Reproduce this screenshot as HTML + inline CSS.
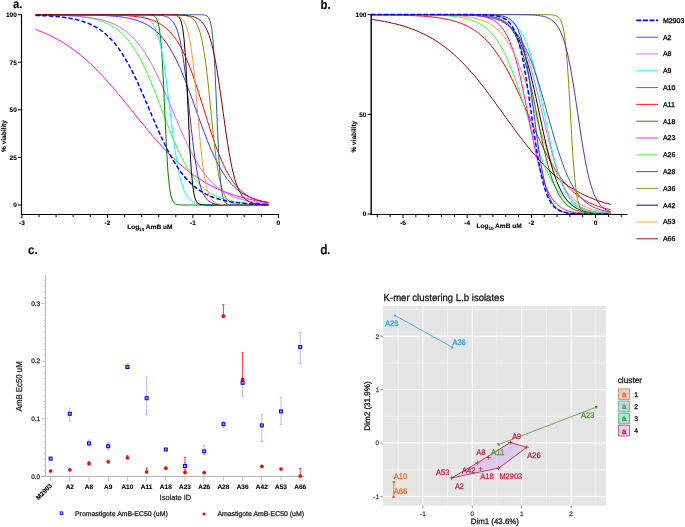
<!DOCTYPE html>
<html><head><meta charset="utf-8"><style>
html,body{margin:0;padding:0;background:#fff;}
svg{display:block;will-change:transform;}
text{font-family:"Liberation Sans",sans-serif;text-rendering:geometricPrecision;}
</style></head><body>
<svg width="685" height="527" viewBox="0 0 685 527" font-family="Liberation Sans, sans-serif">
<rect width="685" height="527" fill="#fff"/>
<path d="M35.7,29.6 L37.1,30.1 L38.6,30.7 L40.0,31.2 L41.5,31.8 L42.9,32.4 L44.4,33.0 L45.8,33.6 L47.3,34.3 L48.8,34.9 L50.2,35.6 L51.7,36.3 L53.1,37.0 L54.6,37.8 L56.0,38.6 L57.5,39.4 L58.9,40.2 L60.4,41.0 L61.8,41.9 L63.3,42.7 L64.8,43.7 L66.2,44.6 L67.7,45.5 L69.1,46.5 L70.6,47.5 L72.0,48.6 L73.5,49.6 L74.9,50.7 L76.4,51.8 L77.8,52.9 L79.3,54.1 L80.8,55.3 L82.2,56.5 L83.7,57.7 L85.1,59.0 L86.6,60.3 L88.0,61.6 L89.5,62.9 L90.9,64.3 L92.4,65.7 L93.8,67.1 L95.3,68.5 L96.8,70.0 L98.2,71.5 L99.7,73.0 L101.1,74.5 L102.6,76.0 L104.0,77.6 L105.5,79.2 L106.9,80.8 L108.4,82.5 L109.8,84.1 L111.3,85.8 L112.8,87.5 L114.2,89.2 L115.7,90.9 L117.1,92.6 L118.6,94.4 L120.0,96.1 L121.5,97.9 L122.9,99.7 L124.4,101.4 L125.8,103.2 L127.3,105.0 L128.8,106.8 L130.2,108.6 L131.7,110.4 L133.1,112.2 L134.6,114.1 L136.0,115.9 L137.5,117.7 L138.9,119.5 L140.4,121.3 L141.8,123.0 L143.3,124.8 L144.8,126.6 L146.2,128.3 L147.7,130.1 L149.1,131.8 L150.6,133.5 L152.0,135.3 L153.5,136.9 L154.9,138.6 L156.4,140.3 L157.8,141.9 L159.3,143.5 L160.8,145.1 L162.2,146.7 L163.7,148.3 L165.1,149.8 L166.6,151.3 L168.0,152.8 L169.5,154.3 L170.9,155.7 L172.4,157.1 L173.8,158.5 L175.3,159.9 L176.8,161.3 L178.2,162.6 L179.7,163.9 L181.1,165.1 L182.6,166.4 L184.0,167.6 L185.5,168.8 L186.9,170.0 L188.4,171.1 L189.8,172.2 L191.3,173.3 L192.8,174.4 L194.2,175.4 L195.7,176.4 L197.1,177.4 L198.6,178.4 L200.0,179.3 L201.5,180.2 L202.9,181.1 L204.4,182.0 L205.9,182.8 L207.3,183.6 L208.8,184.4 L210.2,185.2 L211.7,185.9 L213.1,186.7 L214.6,187.4 L216.0,188.1 L217.5,188.8 L218.9,189.4 L220.4,190.0 L221.9,190.7 L223.3,191.2 L224.8,191.8 L226.2,192.4 L227.7,192.9 L229.1,193.5 L230.6,194.0 L232.0,194.5 L233.5,194.9 L234.9,195.4 L236.4,195.8 L237.9,196.3 L239.3,196.7 L240.8,197.1 L242.2,197.5 L243.7,197.9 L245.1,198.2 L246.6,198.6 L248.0,198.9 L249.5,199.3 L250.9,199.6 L252.4,199.9 L253.9,200.2 L255.3,200.5 L256.8,200.8 L258.2,201.1 L259.7,201.3 L261.1,201.6 L262.6,201.8 L264.0,202.1 L265.5,202.3 L266.9,202.5 L268.4,202.7" fill="none" stroke="#ff00ff" stroke-width="1"/>
<path d="M35.7,14.9 L37.1,14.9 L38.6,14.9 L40.0,14.9 L41.5,14.9 L42.9,15.0 L44.4,15.0 L45.8,15.0 L47.3,15.0 L48.8,15.1 L50.2,15.1 L51.7,15.1 L53.1,15.2 L54.6,15.2 L56.0,15.2 L57.5,15.3 L58.9,15.3 L60.4,15.4 L61.8,15.4 L63.3,15.5 L64.8,15.6 L66.2,15.6 L67.7,15.7 L69.1,15.8 L70.6,15.9 L72.0,16.0 L73.5,16.1 L74.9,16.2 L76.4,16.4 L77.8,16.5 L79.3,16.6 L80.8,16.8 L82.2,17.0 L83.7,17.2 L85.1,17.4 L86.6,17.6 L88.0,17.8 L89.5,18.1 L90.9,18.4 L92.4,18.7 L93.8,19.0 L95.3,19.3 L96.8,19.7 L98.2,20.1 L99.7,20.6 L101.1,21.0 L102.6,21.6 L104.0,22.1 L105.5,22.7 L106.9,23.4 L108.4,24.1 L109.8,24.8 L111.3,25.6 L112.8,26.5 L114.2,27.4 L115.7,28.4 L117.1,29.4 L118.6,30.6 L120.0,31.8 L121.5,33.1 L122.9,34.4 L124.4,35.9 L125.8,37.5 L127.3,39.2 L128.8,40.9 L130.2,42.8 L131.7,44.8 L133.1,46.9 L134.6,49.1 L136.0,51.5 L137.5,53.9 L138.9,56.5 L140.4,59.2 L141.8,62.0 L143.3,64.9 L144.8,67.9 L146.2,71.1 L147.7,74.3 L149.1,77.7 L150.6,81.1 L152.0,84.7 L153.5,88.3 L154.9,92.0 L156.4,95.7 L157.8,99.5 L159.3,103.3 L160.8,107.1 L162.2,110.9 L163.7,114.8 L165.1,118.6 L166.6,122.4 L168.0,126.1 L169.5,129.8 L170.9,133.5 L172.4,137.0 L173.8,140.5 L175.3,143.9 L176.8,147.2 L178.2,150.4 L179.7,153.5 L181.1,156.5 L182.6,159.3 L184.0,162.1 L185.5,164.7 L186.9,167.2 L188.4,169.6 L189.8,171.8 L191.3,174.0 L192.8,176.0 L194.2,178.0 L195.7,179.8 L197.1,181.5 L198.6,183.1 L200.0,184.6 L201.5,186.0 L202.9,187.4 L204.4,188.6 L205.9,189.8 L207.3,190.9 L208.8,191.9 L210.2,192.9 L211.7,193.7 L213.1,194.6 L214.6,195.3 L216.0,196.0 L217.5,196.7 L218.9,197.3 L220.4,197.9 L221.9,198.4 L223.3,198.9 L224.8,199.4 L226.2,199.8 L227.7,200.2 L229.1,200.6 L230.6,200.9 L232.0,201.2 L233.5,201.5 L234.9,201.8 L236.4,202.0 L237.9,202.2 L239.3,202.5 L240.8,202.6 L242.2,202.8 L243.7,203.0 L245.1,203.1 L246.6,203.3 L248.0,203.4 L249.5,203.5 L250.9,203.7 L252.4,203.8 L253.9,203.9 L255.3,203.9 L256.8,204.0 L258.2,204.1 L259.7,204.2 L261.1,204.2 L262.6,204.3 L264.0,204.3 L265.5,204.4 L266.9,204.4 L268.4,204.5" fill="none" stroke="#33ff33" stroke-width="1"/>
<path d="M35.7,14.9 L37.1,14.9 L38.6,14.9 L40.0,14.9 L41.5,15.0 L42.9,15.0 L44.4,15.0 L45.8,15.0 L47.3,15.0 L48.8,15.1 L50.2,15.1 L51.7,15.1 L53.1,15.2 L54.6,15.2 L56.0,15.2 L57.5,15.3 L58.9,15.3 L60.4,15.4 L61.8,15.4 L63.3,15.5 L64.8,15.5 L66.2,15.6 L67.7,15.6 L69.1,15.7 L70.6,15.8 L72.0,15.9 L73.5,16.0 L74.9,16.1 L76.4,16.2 L77.8,16.3 L79.3,16.4 L80.8,16.5 L82.2,16.7 L83.7,16.8 L85.1,17.0 L86.6,17.1 L88.0,17.3 L89.5,17.5 L90.9,17.7 L92.4,18.0 L93.8,18.2 L95.3,18.5 L96.8,18.8 L98.2,19.1 L99.7,19.4 L101.1,19.7 L102.6,20.1 L104.0,20.5 L105.5,20.9 L106.9,21.4 L108.4,21.9 L109.8,22.4 L111.3,23.0 L112.8,23.6 L114.2,24.2 L115.7,24.9 L117.1,25.7 L118.6,26.5 L120.0,27.3 L121.5,28.2 L122.9,29.1 L124.4,30.2 L125.8,31.2 L127.3,32.4 L128.8,33.6 L130.2,34.9 L131.7,36.3 L133.1,37.7 L134.6,39.2 L136.0,40.9 L137.5,42.6 L138.9,44.4 L140.4,46.3 L141.8,48.2 L143.3,50.3 L144.8,52.5 L146.2,54.8 L147.7,57.2 L149.1,59.7 L150.6,62.2 L152.0,64.9 L153.5,67.7 L154.9,70.5 L156.4,73.5 L157.8,76.5 L159.3,79.6 L160.8,82.8 L162.2,86.1 L163.7,89.4 L165.1,92.7 L166.6,96.2 L168.0,99.6 L169.5,103.1 L170.9,106.6 L172.4,110.1 L173.8,113.6 L175.3,117.1 L176.8,120.5 L178.2,124.0 L179.7,127.4 L181.1,130.8 L182.6,134.1 L184.0,137.3 L185.5,140.5 L186.9,143.6 L188.4,146.6 L189.8,149.5 L191.3,152.4 L192.8,155.2 L194.2,157.8 L195.7,160.4 L197.1,162.8 L198.6,165.2 L200.0,167.5 L201.5,169.6 L202.9,171.7 L204.4,173.7 L205.9,175.6 L207.3,177.4 L208.8,179.1 L210.2,180.7 L211.7,182.2 L213.1,183.6 L214.6,185.0 L216.0,186.3 L217.5,187.5 L218.9,188.6 L220.4,189.7 L221.9,190.7 L223.3,191.6 L224.8,192.5 L226.2,193.3 L227.7,194.1 L229.1,194.9 L230.6,195.5 L232.0,196.2 L233.5,196.8 L234.9,197.3 L236.4,197.9 L237.9,198.4 L239.3,198.8 L240.8,199.2 L242.2,199.6 L243.7,200.0 L245.1,200.4 L246.6,200.7 L248.0,201.0 L249.5,201.3 L250.9,201.5 L252.4,201.8 L253.9,202.0 L255.3,202.2 L256.8,202.4 L258.2,202.6 L259.7,202.7 L261.1,202.9 L262.6,203.1 L264.0,203.2 L265.5,203.3 L266.9,203.4 L268.4,203.5" fill="none" stroke="#cc66ff" stroke-width="1"/>
<path d="M35.7,14.7 L37.1,14.7 L38.6,14.7 L40.0,14.7 L41.5,14.7 L42.9,14.7 L44.4,14.7 L45.8,14.7 L47.3,14.7 L48.8,14.7 L50.2,14.7 L51.7,14.7 L53.1,14.7 L54.6,14.7 L56.0,14.7 L57.5,14.7 L58.9,14.7 L60.4,14.7 L61.8,14.7 L63.3,14.7 L64.8,14.7 L66.2,14.7 L67.7,14.7 L69.1,14.7 L70.6,14.7 L72.0,14.7 L73.5,14.7 L74.9,14.7 L76.4,14.7 L77.8,14.7 L79.3,14.7 L80.8,14.7 L82.2,14.7 L83.7,14.7 L85.1,14.7 L86.6,14.7 L88.0,14.7 L89.5,14.7 L90.9,14.7 L92.4,14.7 L93.8,14.7 L95.3,14.7 L96.8,14.7 L98.2,14.7 L99.7,14.7 L101.1,14.7 L102.6,14.7 L104.0,14.7 L105.5,14.7 L106.9,14.7 L108.4,14.7 L109.8,14.7 L111.3,14.7 L112.8,14.7 L114.2,14.7 L115.7,14.7 L117.1,14.7 L118.6,14.7 L120.0,14.7 L121.5,14.7 L122.9,14.7 L124.4,14.7 L125.8,14.7 L127.3,14.7 L128.8,14.7 L130.2,14.7 L131.7,14.7 L133.1,14.7 L134.6,14.7 L136.0,14.7 L137.5,14.7 L138.9,14.7 L140.4,14.7 L141.8,14.7 L143.3,14.7 L144.8,14.7 L146.2,14.7 L147.7,14.8 L149.1,14.8 L150.6,14.9 L152.0,15.2 L153.5,15.6 L154.9,16.5 L156.4,18.3 L157.8,21.7 L159.3,28.2 L160.8,39.9 L162.2,59.2 L163.7,86.9 L165.1,119.4 L166.6,149.8 L168.0,172.7 L169.5,187.4 L170.9,195.8 L172.4,200.3 L173.8,202.6 L175.3,203.8 L176.8,204.4 L178.2,204.7 L179.7,204.8 L181.1,204.9 L182.6,205.0 L184.0,205.0 L185.5,205.0 L186.9,205.0 L188.4,205.0 L189.8,205.0 L191.3,205.0 L192.8,205.0 L194.2,205.0 L195.7,205.0 L197.1,205.0 L198.6,205.0 L200.0,205.0 L201.5,205.0 L202.9,205.0 L204.4,205.0 L205.9,205.0 L207.3,205.0 L208.8,205.0 L210.2,205.0 L211.7,205.0 L213.1,205.0 L214.6,205.0 L216.0,205.0 L217.5,205.0 L218.9,205.0 L220.4,205.0 L221.9,205.0 L223.3,205.0 L224.8,205.0 L226.2,205.0 L227.7,205.0 L229.1,205.0 L230.6,205.0 L232.0,205.0 L233.5,205.0 L234.9,205.0 L236.4,205.0 L237.9,205.0 L239.3,205.0 L240.8,205.0 L242.2,205.0 L243.7,205.0 L245.1,205.0 L246.6,205.0 L248.0,205.0 L249.5,205.0 L250.9,205.0 L252.4,205.0 L253.9,205.0 L255.3,205.0 L256.8,205.0 L258.2,205.0 L259.7,205.0 L261.1,205.0 L262.6,205.0 L264.0,205.0 L265.5,205.0 L266.9,205.0 L268.4,205.0" fill="none" stroke="#008000" stroke-width="1"/>
<path d="M35.7,14.7 L37.1,14.7 L38.6,14.7 L40.0,14.7 L41.5,14.7 L42.9,14.7 L44.4,14.7 L45.8,14.7 L47.3,14.7 L48.8,14.7 L50.2,14.7 L51.7,14.7 L53.1,14.7 L54.6,14.7 L56.0,14.7 L57.5,14.7 L58.9,14.7 L60.4,14.7 L61.8,14.7 L63.3,14.7 L64.8,14.7 L66.2,14.7 L67.7,14.7 L69.1,14.7 L70.6,14.7 L72.0,14.7 L73.5,14.7 L74.9,14.7 L76.4,14.7 L77.8,14.7 L79.3,14.7 L80.8,14.7 L82.2,14.7 L83.7,14.7 L85.1,14.7 L86.6,14.7 L88.0,14.7 L89.5,14.7 L90.9,14.7 L92.4,14.7 L93.8,14.7 L95.3,14.7 L96.8,14.7 L98.2,14.7 L99.7,14.7 L101.1,14.7 L102.6,14.7 L104.0,14.7 L105.5,14.7 L106.9,14.7 L108.4,14.7 L109.8,14.7 L111.3,14.7 L112.8,14.7 L114.2,14.7 L115.7,14.7 L117.1,14.7 L118.6,14.7 L120.0,14.7 L121.5,14.7 L122.9,14.8 L124.4,14.8 L125.8,14.8 L127.3,14.8 L128.8,14.8 L130.2,14.9 L131.7,14.9 L133.1,15.0 L134.6,15.1 L136.0,15.2 L137.5,15.4 L138.9,15.5 L140.4,15.8 L141.8,16.1 L143.3,16.5 L144.8,17.0 L146.2,17.7 L147.7,18.5 L149.1,19.6 L150.6,21.0 L152.0,22.7 L153.5,24.9 L154.9,27.6 L156.4,31.1 L157.8,35.3 L159.3,40.4 L160.8,46.7 L162.2,54.0 L163.7,62.5 L165.1,72.2 L166.6,82.9 L168.0,94.4 L169.5,106.4 L170.9,118.5 L172.4,130.3 L173.8,141.5 L175.3,151.8 L176.8,161.0 L178.2,169.0 L179.7,175.8 L181.1,181.6 L182.6,186.3 L184.0,190.2 L185.5,193.3 L186.9,195.8 L188.4,197.8 L189.8,199.4 L191.3,200.6 L192.8,201.6 L194.2,202.3 L195.7,202.9 L197.1,203.4 L198.6,203.8 L200.0,204.0 L201.5,204.2 L202.9,204.4 L204.4,204.5 L205.9,204.6 L207.3,204.7 L208.8,204.8 L210.2,204.8 L211.7,204.9 L213.1,204.9 L214.6,204.9 L216.0,204.9 L217.5,205.0 L218.9,205.0 L220.4,205.0 L221.9,205.0 L223.3,205.0 L224.8,205.0 L226.2,205.0 L227.7,205.0 L229.1,205.0 L230.6,205.0 L232.0,205.0 L233.5,205.0 L234.9,205.0 L236.4,205.0 L237.9,205.0 L239.3,205.0 L240.8,205.0 L242.2,205.0 L243.7,205.0 L245.1,205.0 L246.6,205.0 L248.0,205.0 L249.5,205.0 L250.9,205.0 L252.4,205.0 L253.9,205.0 L255.3,205.0 L256.8,205.0 L258.2,205.0 L259.7,205.0 L261.1,205.0 L262.6,205.0 L264.0,205.0 L265.5,205.0 L266.9,205.0 L268.4,205.0" fill="none" stroke="#00ffff" stroke-width="1"/>
<path d="M35.7,14.7 L37.1,14.7 L38.6,14.7 L40.0,14.7 L41.5,14.7 L42.9,14.7 L44.4,14.7 L45.8,14.7 L47.3,14.7 L48.8,14.7 L50.2,14.7 L51.7,14.7 L53.1,14.7 L54.6,14.7 L56.0,14.7 L57.5,14.8 L58.9,14.8 L60.4,14.8 L61.8,14.8 L63.3,14.8 L64.8,14.8 L66.2,14.8 L67.7,14.8 L69.1,14.8 L70.6,14.8 L72.0,14.8 L73.5,14.8 L74.9,14.9 L76.4,14.9 L77.8,14.9 L79.3,14.9 L80.8,14.9 L82.2,14.9 L83.7,15.0 L85.1,15.0 L86.6,15.0 L88.0,15.0 L89.5,15.1 L90.9,15.1 L92.4,15.1 L93.8,15.2 L95.3,15.2 L96.8,15.2 L98.2,15.3 L99.7,15.3 L101.1,15.4 L102.6,15.5 L104.0,15.5 L105.5,15.6 L106.9,15.7 L108.4,15.8 L109.8,15.9 L111.3,16.0 L112.8,16.1 L114.2,16.2 L115.7,16.4 L117.1,16.5 L118.6,16.7 L120.0,16.8 L121.5,17.0 L122.9,17.2 L124.4,17.4 L125.8,17.7 L127.3,18.0 L128.8,18.2 L130.2,18.6 L131.7,18.9 L133.1,19.3 L134.6,19.7 L136.0,20.1 L137.5,20.5 L138.9,21.1 L140.4,21.6 L141.8,22.2 L143.3,22.8 L144.8,23.5 L146.2,24.3 L147.7,25.1 L149.1,26.0 L150.6,26.9 L152.0,27.9 L153.5,29.0 L154.9,30.2 L156.4,31.5 L157.8,32.8 L159.3,34.3 L160.8,35.9 L162.2,37.5 L163.7,39.3 L165.1,41.2 L166.6,43.2 L168.0,45.4 L169.5,47.6 L170.9,50.0 L172.4,52.6 L173.8,55.3 L175.3,58.1 L176.8,61.0 L178.2,64.1 L179.7,67.3 L181.1,70.6 L182.6,74.0 L184.0,77.6 L185.5,81.3 L186.9,85.0 L188.4,88.9 L189.8,92.8 L191.3,96.8 L192.8,100.8 L194.2,104.8 L195.7,108.9 L197.1,113.0 L198.6,117.1 L200.0,121.1 L201.5,125.1 L202.9,129.1 L204.4,132.9 L205.9,136.7 L207.3,140.4 L208.8,144.1 L210.2,147.5 L211.7,150.9 L213.1,154.2 L214.6,157.3 L216.0,160.3 L217.5,163.2 L218.9,165.9 L220.4,168.5 L221.9,171.0 L223.3,173.3 L224.8,175.5 L226.2,177.6 L227.7,179.5 L229.1,181.4 L230.6,183.1 L232.0,184.7 L233.5,186.2 L234.9,187.6 L236.4,188.9 L237.9,190.1 L239.3,191.3 L240.8,192.3 L242.2,193.3 L243.7,194.2 L245.1,195.0 L246.6,195.8 L248.0,196.5 L249.5,197.2 L250.9,197.8 L252.4,198.4 L253.9,198.9 L255.3,199.4 L256.8,199.9 L258.2,200.3 L259.7,200.6 L261.1,201.0 L262.6,201.3 L264.0,201.6 L265.5,201.9 L266.9,202.1 L268.4,202.4" fill="none" stroke="#3333ff" stroke-width="1"/>
<path d="M35.7,14.7 L37.1,14.7 L38.6,14.7 L40.0,14.7 L41.5,14.7 L42.9,14.7 L44.4,14.7 L45.8,14.7 L47.3,14.7 L48.8,14.7 L50.2,14.7 L51.7,14.7 L53.1,14.7 L54.6,14.7 L56.0,14.7 L57.5,14.7 L58.9,14.7 L60.4,14.7 L61.8,14.7 L63.3,14.7 L64.8,14.7 L66.2,14.7 L67.7,14.7 L69.1,14.7 L70.6,14.7 L72.0,14.7 L73.5,14.7 L74.9,14.7 L76.4,14.7 L77.8,14.7 L79.3,14.7 L80.8,14.7 L82.2,14.7 L83.7,14.7 L85.1,14.7 L86.6,14.7 L88.0,14.7 L89.5,14.7 L90.9,14.7 L92.4,14.7 L93.8,14.7 L95.3,14.7 L96.8,14.7 L98.2,14.7 L99.7,14.7 L101.1,14.7 L102.6,14.7 L104.0,14.7 L105.5,14.7 L106.9,14.7 L108.4,14.7 L109.8,14.7 L111.3,14.7 L112.8,14.7 L114.2,14.7 L115.7,14.7 L117.1,14.7 L118.6,14.7 L120.0,14.7 L121.5,14.7 L122.9,14.7 L124.4,14.7 L125.8,14.7 L127.3,14.7 L128.8,14.7 L130.2,14.7 L131.7,14.7 L133.1,14.7 L134.6,14.7 L136.0,14.7 L137.5,14.7 L138.9,14.7 L140.4,14.7 L141.8,14.7 L143.3,14.7 L144.8,14.7 L146.2,14.7 L147.7,14.7 L149.1,14.8 L150.6,14.8 L152.0,14.8 L153.5,14.9 L154.9,14.9 L156.4,15.0 L157.8,15.1 L159.3,15.2 L160.8,15.3 L162.2,15.6 L163.7,15.8 L165.1,16.2 L166.6,16.7 L168.0,17.4 L169.5,18.3 L170.9,19.5 L172.4,21.0 L173.8,23.1 L175.3,25.7 L176.8,29.1 L178.2,33.5 L179.7,39.0 L181.1,45.9 L182.6,54.2 L184.0,64.0 L185.5,75.3 L186.9,87.9 L188.4,101.3 L189.8,115.1 L191.3,128.6 L192.8,141.4 L194.2,153.0 L195.7,163.2 L197.1,171.9 L198.6,179.1 L200.0,184.9 L201.5,189.6 L202.9,193.2 L204.4,196.0 L205.9,198.2 L207.3,199.9 L208.8,201.1 L210.2,202.1 L211.7,202.8 L213.1,203.4 L214.6,203.8 L216.0,204.1 L217.5,204.3 L218.9,204.5 L220.4,204.6 L221.9,204.7 L223.3,204.8 L224.8,204.8 L226.2,204.9 L227.7,204.9 L229.1,204.9 L230.6,204.9 L232.0,205.0 L233.5,205.0 L234.9,205.0 L236.4,205.0 L237.9,205.0 L239.3,205.0 L240.8,205.0 L242.2,205.0 L243.7,205.0 L245.1,205.0 L246.6,205.0 L248.0,205.0 L249.5,205.0 L250.9,205.0 L252.4,205.0 L253.9,205.0 L255.3,205.0 L256.8,205.0 L258.2,205.0 L259.7,205.0 L261.1,205.0 L262.6,205.0 L264.0,205.0 L265.5,205.0 L266.9,205.0 L268.4,205.0" fill="none" stroke="#5a2db0" stroke-width="1"/>
<path d="M35.7,14.7 L37.1,14.7 L38.6,14.7 L40.0,14.7 L41.5,14.7 L42.9,14.7 L44.4,14.7 L45.8,14.7 L47.3,14.7 L48.8,14.7 L50.2,14.7 L51.7,14.7 L53.1,14.7 L54.6,14.7 L56.0,14.7 L57.5,14.7 L58.9,14.7 L60.4,14.7 L61.8,14.7 L63.3,14.7 L64.8,14.7 L66.2,14.7 L67.7,14.7 L69.1,14.7 L70.6,14.7 L72.0,14.7 L73.5,14.7 L74.9,14.7 L76.4,14.7 L77.8,14.7 L79.3,14.7 L80.8,14.7 L82.2,14.7 L83.7,14.7 L85.1,14.7 L86.6,14.7 L88.0,14.7 L89.5,14.7 L90.9,14.7 L92.4,14.7 L93.8,14.7 L95.3,14.7 L96.8,14.7 L98.2,14.7 L99.7,14.7 L101.1,14.7 L102.6,14.7 L104.0,14.7 L105.5,14.7 L106.9,14.7 L108.4,14.7 L109.8,14.7 L111.3,14.7 L112.8,14.7 L114.2,14.7 L115.7,14.7 L117.1,14.7 L118.6,14.7 L120.0,14.7 L121.5,14.7 L122.9,14.7 L124.4,14.7 L125.8,14.7 L127.3,14.7 L128.8,14.7 L130.2,14.7 L131.7,14.7 L133.1,14.7 L134.6,14.7 L136.0,14.7 L137.5,14.7 L138.9,14.7 L140.4,14.7 L141.8,14.7 L143.3,14.7 L144.8,14.7 L146.2,14.7 L147.7,14.7 L149.1,14.7 L150.6,14.7 L152.0,14.7 L153.5,14.7 L154.9,14.7 L156.4,14.7 L157.8,14.7 L159.3,14.7 L160.8,14.7 L162.2,14.7 L163.7,14.7 L165.1,14.7 L166.6,14.7 L168.0,14.7 L169.5,14.7 L170.9,14.8 L172.4,14.8 L173.8,14.9 L175.3,15.1 L176.8,15.6 L178.2,16.4 L179.7,18.1 L181.1,21.3 L182.6,27.5 L184.0,38.6 L185.5,57.2 L186.9,84.2 L188.4,116.5 L189.8,147.4 L191.3,171.1 L192.8,186.4 L194.2,195.2 L195.7,200.0 L197.1,202.5 L198.6,203.7 L200.0,204.4 L201.5,204.7 L202.9,204.8 L204.4,204.9 L205.9,205.0 L207.3,205.0 L208.8,205.0 L210.2,205.0 L211.7,205.0 L213.1,205.0 L214.6,205.0 L216.0,205.0 L217.5,205.0 L218.9,205.0 L220.4,205.0 L221.9,205.0 L223.3,205.0 L224.8,205.0 L226.2,205.0 L227.7,205.0 L229.1,205.0 L230.6,205.0 L232.0,205.0 L233.5,205.0 L234.9,205.0 L236.4,205.0 L237.9,205.0 L239.3,205.0 L240.8,205.0 L242.2,205.0 L243.7,205.0 L245.1,205.0 L246.6,205.0 L248.0,205.0 L249.5,205.0 L250.9,205.0 L252.4,205.0 L253.9,205.0 L255.3,205.0 L256.8,205.0 L258.2,205.0 L259.7,205.0 L261.1,205.0 L262.6,205.0 L264.0,205.0 L265.5,205.0 L266.9,205.0 L268.4,205.0" fill="none" stroke="#000000" stroke-width="1"/>
<path d="M35.7,14.7 L37.1,14.7 L38.6,14.7 L40.0,14.7 L41.5,14.7 L42.9,14.7 L44.4,14.7 L45.8,14.7 L47.3,14.7 L48.8,14.7 L50.2,14.7 L51.7,14.7 L53.1,14.7 L54.6,14.7 L56.0,14.7 L57.5,14.7 L58.9,14.7 L60.4,14.7 L61.8,14.7 L63.3,14.7 L64.8,14.7 L66.2,14.7 L67.7,14.7 L69.1,14.7 L70.6,14.7 L72.0,14.7 L73.5,14.7 L74.9,14.7 L76.4,14.7 L77.8,14.7 L79.3,14.7 L80.8,14.7 L82.2,14.7 L83.7,14.8 L85.1,14.8 L86.6,14.8 L88.0,14.8 L89.5,14.8 L90.9,14.8 L92.4,14.8 L93.8,14.8 L95.3,14.8 L96.8,14.8 L98.2,14.8 L99.7,14.9 L101.1,14.9 L102.6,14.9 L104.0,14.9 L105.5,14.9 L106.9,15.0 L108.4,15.0 L109.8,15.0 L111.3,15.1 L112.8,15.1 L114.2,15.1 L115.7,15.2 L117.1,15.2 L118.6,15.3 L120.0,15.3 L121.5,15.4 L122.9,15.5 L124.4,15.6 L125.8,15.6 L127.3,15.7 L128.8,15.8 L130.2,16.0 L131.7,16.1 L133.1,16.2 L134.6,16.4 L136.0,16.6 L137.5,16.8 L138.9,17.0 L140.4,17.2 L141.8,17.5 L143.3,17.7 L144.8,18.1 L146.2,18.4 L147.7,18.8 L149.1,19.2 L150.6,19.6 L152.0,20.1 L153.5,20.7 L154.9,21.3 L156.4,21.9 L157.8,22.7 L159.3,23.4 L160.8,24.3 L162.2,25.2 L163.7,26.3 L165.1,27.4 L166.6,28.6 L168.0,29.9 L169.5,31.4 L170.9,33.0 L172.4,34.6 L173.8,36.5 L175.3,38.5 L176.8,40.6 L178.2,42.9 L179.7,45.3 L181.1,47.9 L182.6,50.7 L184.0,53.7 L185.5,56.9 L186.9,60.2 L188.4,63.7 L189.8,67.4 L191.3,71.2 L192.8,75.2 L194.2,79.4 L195.7,83.6 L197.1,88.0 L198.6,92.5 L200.0,97.1 L201.5,101.8 L202.9,106.4 L204.4,111.1 L205.9,115.8 L207.3,120.5 L208.8,125.1 L210.2,129.6 L211.7,134.1 L213.1,138.4 L214.6,142.6 L216.0,146.7 L217.5,150.6 L218.9,154.3 L220.4,157.9 L221.9,161.3 L223.3,164.6 L224.8,167.6 L226.2,170.5 L227.7,173.2 L229.1,175.7 L230.6,178.1 L232.0,180.3 L233.5,182.3 L234.9,184.2 L236.4,186.0 L237.9,187.6 L239.3,189.1 L240.8,190.5 L242.2,191.8 L243.7,192.9 L245.1,194.0 L246.6,195.0 L248.0,195.9 L249.5,196.7 L250.9,197.4 L252.4,198.1 L253.9,198.8 L255.3,199.3 L256.8,199.8 L258.2,200.3 L259.7,200.7 L261.1,201.1 L262.6,201.5 L264.0,201.8 L265.5,202.1 L266.9,202.4 L268.4,202.6" fill="none" stroke="#ff0000" stroke-width="1"/>
<path d="M35.7,14.7 L37.1,14.7 L38.6,14.7 L40.0,14.7 L41.5,14.7 L42.9,14.7 L44.4,14.7 L45.8,14.7 L47.3,14.7 L48.8,14.7 L50.2,14.7 L51.7,14.7 L53.1,14.7 L54.6,14.7 L56.0,14.7 L57.5,14.7 L58.9,14.7 L60.4,14.7 L61.8,14.7 L63.3,14.7 L64.8,14.7 L66.2,14.7 L67.7,14.7 L69.1,14.7 L70.6,14.7 L72.0,14.7 L73.5,14.7 L74.9,14.7 L76.4,14.7 L77.8,14.7 L79.3,14.7 L80.8,14.7 L82.2,14.7 L83.7,14.7 L85.1,14.7 L86.6,14.7 L88.0,14.7 L89.5,14.7 L90.9,14.7 L92.4,14.7 L93.8,14.7 L95.3,14.7 L96.8,14.7 L98.2,14.7 L99.7,14.7 L101.1,14.7 L102.6,14.7 L104.0,14.7 L105.5,14.7 L106.9,14.7 L108.4,14.7 L109.8,14.7 L111.3,14.7 L112.8,14.7 L114.2,14.7 L115.7,14.7 L117.1,14.7 L118.6,14.7 L120.0,14.7 L121.5,14.7 L122.9,14.7 L124.4,14.7 L125.8,14.7 L127.3,14.7 L128.8,14.7 L130.2,14.7 L131.7,14.7 L133.1,14.7 L134.6,14.7 L136.0,14.7 L137.5,14.7 L138.9,14.7 L140.4,14.7 L141.8,14.7 L143.3,14.7 L144.8,14.7 L146.2,14.7 L147.7,14.7 L149.1,14.7 L150.6,14.7 L152.0,14.7 L153.5,14.7 L154.9,14.7 L156.4,14.7 L157.8,14.7 L159.3,14.7 L160.8,14.7 L162.2,14.7 L163.7,14.7 L165.1,14.8 L166.6,14.8 L168.0,14.8 L169.5,14.9 L170.9,15.0 L172.4,15.1 L173.8,15.3 L175.3,15.5 L176.8,15.8 L178.2,16.3 L179.7,17.0 L181.1,18.0 L182.6,19.4 L184.0,21.4 L185.5,24.1 L186.9,28.0 L188.4,33.2 L189.8,40.1 L191.3,49.1 L192.8,60.5 L194.2,74.1 L195.7,89.7 L197.1,106.6 L198.6,123.6 L200.0,139.8 L201.5,154.3 L202.9,166.5 L204.4,176.4 L205.9,184.1 L207.3,189.9 L208.8,194.2 L210.2,197.4 L211.7,199.6 L213.1,201.2 L214.6,202.3 L216.0,203.1 L217.5,203.7 L218.9,204.1 L220.4,204.4 L221.9,204.6 L223.3,204.7 L224.8,204.8 L226.2,204.8 L227.7,204.9 L229.1,204.9 L230.6,204.9 L232.0,205.0 L233.5,205.0 L234.9,205.0 L236.4,205.0 L237.9,205.0 L239.3,205.0 L240.8,205.0 L242.2,205.0 L243.7,205.0 L245.1,205.0 L246.6,205.0 L248.0,205.0 L249.5,205.0 L250.9,205.0 L252.4,205.0 L253.9,205.0 L255.3,205.0 L256.8,205.0 L258.2,205.0 L259.7,205.0 L261.1,205.0 L262.6,205.0 L264.0,205.0 L265.5,205.0 L266.9,205.0 L268.4,205.0" fill="none" stroke="#ff9933" stroke-width="1"/>
<path d="M35.7,14.7 L37.1,14.7 L38.6,14.7 L40.0,14.7 L41.5,14.7 L42.9,14.7 L44.4,14.7 L45.8,14.7 L47.3,14.7 L48.8,14.7 L50.2,14.7 L51.7,14.7 L53.1,14.7 L54.6,14.7 L56.0,14.7 L57.5,14.7 L58.9,14.7 L60.4,14.7 L61.8,14.7 L63.3,14.7 L64.8,14.7 L66.2,14.7 L67.7,14.7 L69.1,14.7 L70.6,14.7 L72.0,14.7 L73.5,14.7 L74.9,14.7 L76.4,14.7 L77.8,14.7 L79.3,14.7 L80.8,14.7 L82.2,14.7 L83.7,14.7 L85.1,14.7 L86.6,14.7 L88.0,14.7 L89.5,14.7 L90.9,14.7 L92.4,14.7 L93.8,14.7 L95.3,14.7 L96.8,14.7 L98.2,14.7 L99.7,14.7 L101.1,14.7 L102.6,14.7 L104.0,14.7 L105.5,14.7 L106.9,14.7 L108.4,14.7 L109.8,14.7 L111.3,14.7 L112.8,14.7 L114.2,14.7 L115.7,14.7 L117.1,14.7 L118.6,14.7 L120.0,14.7 L121.5,14.7 L122.9,14.7 L124.4,14.7 L125.8,14.7 L127.3,14.7 L128.8,14.7 L130.2,14.7 L131.7,14.7 L133.1,14.7 L134.6,14.7 L136.0,14.7 L137.5,14.7 L138.9,14.7 L140.4,14.7 L141.8,14.7 L143.3,14.7 L144.8,14.7 L146.2,14.7 L147.7,14.7 L149.1,14.7 L150.6,14.7 L152.0,14.7 L153.5,14.7 L154.9,14.7 L156.4,14.7 L157.8,14.7 L159.3,14.7 L160.8,14.7 L162.2,14.7 L163.7,14.7 L165.1,14.7 L166.6,14.7 L168.0,14.7 L169.5,14.7 L170.9,14.7 L172.4,14.8 L173.8,14.8 L175.3,14.8 L176.8,14.8 L178.2,14.9 L179.7,15.0 L181.1,15.1 L182.6,15.2 L184.0,15.4 L185.5,15.6 L186.9,15.9 L188.4,16.4 L189.8,16.9 L191.3,17.7 L192.8,18.8 L194.2,20.2 L195.7,22.2 L197.1,24.7 L198.6,28.1 L200.0,32.4 L201.5,38.0 L202.9,45.1 L204.4,53.8 L205.9,64.2 L207.3,76.2 L208.8,89.6 L210.2,104.0 L211.7,118.6 L213.1,132.8 L214.6,145.9 L216.0,157.7 L217.5,167.8 L218.9,176.1 L220.4,182.9 L221.9,188.2 L223.3,192.4 L224.8,195.5 L226.2,198.0 L227.7,199.8 L229.1,201.1 L230.6,202.1 L232.0,202.9 L233.5,203.4 L234.9,203.9 L236.4,204.2 L237.9,204.4 L239.3,204.5 L240.8,204.7 L242.2,204.8 L243.7,204.8 L245.1,204.9 L246.6,204.9 L248.0,204.9 L249.5,204.9 L250.9,205.0 L252.4,205.0 L253.9,205.0 L255.3,205.0 L256.8,205.0 L258.2,205.0 L259.7,205.0 L261.1,205.0 L262.6,205.0 L264.0,205.0 L265.5,205.0 L266.9,205.0 L268.4,205.0" fill="none" stroke="#8c8c00" stroke-width="1"/>
<path d="M35.7,14.7 L37.1,14.7 L38.6,14.7 L40.0,14.7 L41.5,14.7 L42.9,14.7 L44.4,14.7 L45.8,14.7 L47.3,14.7 L48.8,14.7 L50.2,14.7 L51.7,14.7 L53.1,14.7 L54.6,14.7 L56.0,14.7 L57.5,14.7 L58.9,14.7 L60.4,14.7 L61.8,14.7 L63.3,14.7 L64.8,14.7 L66.2,14.7 L67.7,14.7 L69.1,14.7 L70.6,14.7 L72.0,14.7 L73.5,14.7 L74.9,14.7 L76.4,14.7 L77.8,14.7 L79.3,14.7 L80.8,14.7 L82.2,14.7 L83.7,14.7 L85.1,14.7 L86.6,14.7 L88.0,14.7 L89.5,14.7 L90.9,14.7 L92.4,14.7 L93.8,14.7 L95.3,14.7 L96.8,14.7 L98.2,14.7 L99.7,14.7 L101.1,14.7 L102.6,14.7 L104.0,14.7 L105.5,14.7 L106.9,14.7 L108.4,14.7 L109.8,14.7 L111.3,14.7 L112.8,14.7 L114.2,14.7 L115.7,14.7 L117.1,14.7 L118.6,14.7 L120.0,14.7 L121.5,14.7 L122.9,14.7 L124.4,14.7 L125.8,14.7 L127.3,14.7 L128.8,14.7 L130.2,14.7 L131.7,14.7 L133.1,14.7 L134.6,14.7 L136.0,14.7 L137.5,14.7 L138.9,14.7 L140.4,14.7 L141.8,14.7 L143.3,14.7 L144.8,14.7 L146.2,14.7 L147.7,14.7 L149.1,14.7 L150.6,14.7 L152.0,14.7 L153.5,14.7 L154.9,14.7 L156.4,14.7 L157.8,14.7 L159.3,14.7 L160.8,14.7 L162.2,14.7 L163.7,14.7 L165.1,14.7 L166.6,14.7 L168.0,14.7 L169.5,14.7 L170.9,14.7 L172.4,14.7 L173.8,14.7 L175.3,14.7 L176.8,14.7 L178.2,14.7 L179.7,14.7 L181.1,14.7 L182.6,14.7 L184.0,14.7 L185.5,14.7 L186.9,14.7 L188.4,14.7 L189.8,14.7 L191.3,14.7 L192.8,14.7 L194.2,14.7 L195.7,14.7 L197.1,14.7 L198.6,14.7 L200.0,14.7 L201.5,14.8 L202.9,14.9 L204.4,15.1 L205.9,15.4 L207.3,16.2 L208.8,17.9 L210.2,21.3 L211.7,28.2 L213.1,41.0 L214.6,62.7 L216.0,93.7 L217.5,128.7 L218.9,159.1 L220.4,180.0 L221.9,192.3 L223.3,198.7 L224.8,202.0 L226.2,203.5 L227.7,204.3 L229.1,204.7 L230.6,204.8 L232.0,204.9 L233.5,205.0 L234.9,205.0 L236.4,205.0 L237.9,205.0 L239.3,205.0 L240.8,205.0 L242.2,205.0 L243.7,205.0 L245.1,205.0 L246.6,205.0 L248.0,205.0 L249.5,205.0 L250.9,205.0 L252.4,205.0 L253.9,205.0 L255.3,205.0 L256.8,205.0 L258.2,205.0 L259.7,205.0 L261.1,205.0 L262.6,205.0 L264.0,205.0 L265.5,205.0 L266.9,205.0 L268.4,205.0" fill="none" stroke="#2f5f9f" stroke-width="1"/>
<path d="M35.7,14.7 L37.1,14.7 L38.6,14.7 L40.0,14.7 L41.5,14.7 L42.9,14.7 L44.4,14.7 L45.8,14.7 L47.3,14.7 L48.8,14.7 L50.2,14.7 L51.7,14.7 L53.1,14.7 L54.6,14.7 L56.0,14.7 L57.5,14.7 L58.9,14.7 L60.4,14.7 L61.8,14.7 L63.3,14.7 L64.8,14.7 L66.2,14.7 L67.7,14.7 L69.1,14.7 L70.6,14.7 L72.0,14.7 L73.5,14.7 L74.9,14.7 L76.4,14.7 L77.8,14.7 L79.3,14.7 L80.8,14.7 L82.2,14.7 L83.7,14.7 L85.1,14.7 L86.6,14.7 L88.0,14.7 L89.5,14.7 L90.9,14.7 L92.4,14.7 L93.8,14.7 L95.3,14.7 L96.8,14.7 L98.2,14.7 L99.7,14.7 L101.1,14.7 L102.6,14.7 L104.0,14.7 L105.5,14.7 L106.9,14.7 L108.4,14.7 L109.8,14.7 L111.3,14.7 L112.8,14.7 L114.2,14.7 L115.7,14.7 L117.1,14.7 L118.6,14.7 L120.0,14.7 L121.5,14.7 L122.9,14.7 L124.4,14.7 L125.8,14.7 L127.3,14.7 L128.8,14.7 L130.2,14.7 L131.7,14.7 L133.1,14.7 L134.6,14.7 L136.0,14.7 L137.5,14.7 L138.9,14.7 L140.4,14.7 L141.8,14.7 L143.3,14.7 L144.8,14.7 L146.2,14.7 L147.7,14.7 L149.1,14.7 L150.6,14.7 L152.0,14.7 L153.5,14.7 L154.9,14.7 L156.4,14.7 L157.8,14.7 L159.3,14.7 L160.8,14.7 L162.2,14.7 L163.7,14.7 L165.1,14.7 L166.6,14.7 L168.0,14.7 L169.5,14.8 L170.9,14.8 L172.4,14.8 L173.8,14.8 L175.3,14.8 L176.8,14.9 L178.2,14.9 L179.7,15.0 L181.1,15.0 L182.6,15.1 L184.0,15.2 L185.5,15.3 L186.9,15.5 L188.4,15.7 L189.8,15.9 L191.3,16.2 L192.8,16.6 L194.2,17.0 L195.7,17.6 L197.1,18.3 L198.6,19.2 L200.0,20.3 L201.5,21.7 L202.9,23.3 L204.4,25.4 L205.9,27.8 L207.3,30.8 L208.8,34.5 L210.2,38.8 L211.7,43.9 L213.1,49.8 L214.6,56.7 L216.0,64.4 L217.5,73.1 L218.9,82.5 L220.4,92.5 L221.9,102.9 L223.3,113.5 L224.8,124.1 L226.2,134.2 L227.7,143.8 L229.1,152.7 L230.6,160.7 L232.0,167.9 L233.5,174.1 L234.9,179.4 L236.4,184.0 L237.9,187.8 L239.3,191.0 L240.8,193.6 L242.2,195.8 L243.7,197.6 L245.1,199.0 L246.6,200.2 L248.0,201.1 L249.5,201.9 L250.9,202.5 L252.4,203.0 L253.9,203.4 L255.3,203.7 L256.8,204.0 L258.2,204.2 L259.7,204.3 L261.1,204.5 L262.6,204.6 L264.0,204.7 L265.5,204.7 L266.9,204.8 L268.4,204.8" fill="none" stroke="#800000" stroke-width="1"/>
<path d="M35.7,15.4 L37.1,15.4 L38.6,15.5 L40.0,15.5 L41.5,15.6 L42.9,15.7 L44.4,15.7 L45.8,15.8 L47.3,15.9 L48.8,16.0 L50.2,16.1 L51.7,16.2 L53.1,16.3 L54.6,16.4 L56.0,16.5 L57.5,16.6 L58.9,16.8 L60.4,16.9 L61.8,17.1 L63.3,17.3 L64.8,17.5 L66.2,17.7 L67.7,17.9 L69.1,18.1 L70.6,18.4 L72.0,18.7 L73.5,19.0 L74.9,19.3 L76.4,19.6 L77.8,20.0 L79.3,20.3 L80.8,20.8 L82.2,21.2 L83.7,21.7 L85.1,22.2 L86.6,22.7 L88.0,23.3 L89.5,23.9 L90.9,24.5 L92.4,25.2 L93.8,26.0 L95.3,26.8 L96.8,27.6 L98.2,28.5 L99.7,29.5 L101.1,30.5 L102.6,31.5 L104.0,32.7 L105.5,33.9 L106.9,35.2 L108.4,36.5 L109.8,38.0 L111.3,39.5 L112.8,41.1 L114.2,42.8 L115.7,44.6 L117.1,46.4 L118.6,48.4 L120.0,50.4 L121.5,52.6 L122.9,54.8 L124.4,57.2 L125.8,59.6 L127.3,62.1 L128.8,64.7 L130.2,67.5 L131.7,70.3 L133.1,73.1 L134.6,76.1 L136.0,79.1 L137.5,82.3 L138.9,85.4 L140.4,88.7 L141.8,92.0 L143.3,95.3 L144.8,98.7 L146.2,102.1 L147.7,105.5 L149.1,109.0 L150.6,112.4 L152.0,115.8 L153.5,119.2 L154.9,122.6 L156.4,126.0 L157.8,129.3 L159.3,132.6 L160.8,135.8 L162.2,138.9 L163.7,142.0 L165.1,145.0 L166.6,148.0 L168.0,150.8 L169.5,153.6 L170.9,156.2 L172.4,158.8 L173.8,161.3 L175.3,163.7 L176.8,166.0 L178.2,168.2 L179.7,170.3 L181.1,172.3 L182.6,174.2 L184.0,176.0 L185.5,177.7 L186.9,179.4 L188.4,180.9 L189.8,182.4 L191.3,183.8 L192.8,185.1 L194.2,186.4 L195.7,187.6 L197.1,188.7 L198.6,189.7 L200.0,190.7 L201.5,191.6 L202.9,192.5 L204.4,193.3 L205.9,194.1 L207.3,194.8 L208.8,195.5 L210.2,196.1 L211.7,196.7 L213.1,197.3 L214.6,197.8 L216.0,198.3 L217.5,198.7 L218.9,199.1 L220.4,199.5 L221.9,199.9 L223.3,200.3 L224.8,200.6 L226.2,200.9 L227.7,201.2 L229.1,201.4 L230.6,201.7 L232.0,201.9 L233.5,202.1 L234.9,202.3 L236.4,202.5 L237.9,202.7 L239.3,202.8 L240.8,203.0 L242.2,203.1 L243.7,203.2 L245.1,203.4 L246.6,203.5 L248.0,203.6 L249.5,203.7 L250.9,203.8 L252.4,203.9 L253.9,203.9 L255.3,204.0 L256.8,204.1 L258.2,204.1 L259.7,204.2 L261.1,204.3 L262.6,204.3 L264.0,204.4 L265.5,204.4 L266.9,204.4 L268.4,204.5" fill="none" stroke="#0000ff" stroke-width="1.5" stroke-dasharray="4.4 2.2"/>
<line x1="21.50" y1="14.00" x2="21.50" y2="215.00" stroke="#000" stroke-width="1.15" />
<line x1="21.00" y1="214.50" x2="278.90" y2="214.50" stroke="#000" stroke-width="1.1" />
<line x1="18.00" y1="14.70" x2="21.50" y2="14.70" stroke="#000" stroke-width="1.0" />
<text x="16.80" y="17.00" font-size="6.5" text-anchor="end" font-weight="bold" fill="#000" stroke="#000" stroke-width="0.12" >100</text>
<line x1="18.00" y1="62.28" x2="21.50" y2="62.28" stroke="#000" stroke-width="1.0" />
<text x="16.80" y="64.58" font-size="6.5" text-anchor="end" font-weight="bold" fill="#000" stroke="#000" stroke-width="0.12" >75</text>
<line x1="18.00" y1="109.85" x2="21.50" y2="109.85" stroke="#000" stroke-width="1.0" />
<text x="16.80" y="112.15" font-size="6.5" text-anchor="end" font-weight="bold" fill="#000" stroke="#000" stroke-width="0.12" >50</text>
<line x1="18.00" y1="157.43" x2="21.50" y2="157.43" stroke="#000" stroke-width="1.0" />
<text x="16.80" y="159.73" font-size="6.5" text-anchor="end" font-weight="bold" fill="#000" stroke="#000" stroke-width="0.12" >25</text>
<line x1="18.00" y1="205.00" x2="21.50" y2="205.00" stroke="#000" stroke-width="1.0" />
<text x="16.80" y="207.30" font-size="6.5" text-anchor="end" font-weight="bold" fill="#000" stroke="#000" stroke-width="0.12" >0</text>
<line x1="21.90" y1="214.50" x2="21.90" y2="218.00" stroke="#000" stroke-width="1.0" />
<line x1="39.00" y1="214.50" x2="39.00" y2="217.00" stroke="#000" stroke-width="1.0" />
<line x1="56.10" y1="214.50" x2="56.10" y2="217.00" stroke="#000" stroke-width="1.0" />
<line x1="73.20" y1="214.50" x2="73.20" y2="217.00" stroke="#000" stroke-width="1.0" />
<line x1="90.30" y1="214.50" x2="90.30" y2="217.00" stroke="#000" stroke-width="1.0" />
<line x1="107.40" y1="214.50" x2="107.40" y2="218.00" stroke="#000" stroke-width="1.0" />
<line x1="124.50" y1="214.50" x2="124.50" y2="217.00" stroke="#000" stroke-width="1.0" />
<line x1="141.60" y1="214.50" x2="141.60" y2="217.00" stroke="#000" stroke-width="1.0" />
<line x1="158.70" y1="214.50" x2="158.70" y2="217.00" stroke="#000" stroke-width="1.0" />
<line x1="175.80" y1="214.50" x2="175.80" y2="217.00" stroke="#000" stroke-width="1.0" />
<line x1="192.90" y1="214.50" x2="192.90" y2="218.00" stroke="#000" stroke-width="1.0" />
<line x1="210.00" y1="214.50" x2="210.00" y2="217.00" stroke="#000" stroke-width="1.0" />
<line x1="227.10" y1="214.50" x2="227.10" y2="217.00" stroke="#000" stroke-width="1.0" />
<line x1="244.20" y1="214.50" x2="244.20" y2="217.00" stroke="#000" stroke-width="1.0" />
<line x1="261.30" y1="214.50" x2="261.30" y2="217.00" stroke="#000" stroke-width="1.0" />
<line x1="278.40" y1="214.50" x2="278.40" y2="218.00" stroke="#000" stroke-width="1.0" />
<text x="21.90" y="225.30" font-size="6.5" text-anchor="middle" font-weight="bold" fill="#000" stroke="#000" stroke-width="0.12" >-3</text>
<text x="107.40" y="225.30" font-size="6.5" text-anchor="middle" font-weight="bold" fill="#000" stroke="#000" stroke-width="0.12" >-2</text>
<text x="192.90" y="225.30" font-size="6.5" text-anchor="middle" font-weight="bold" fill="#000" stroke="#000" stroke-width="0.12" >-1</text>
<text x="278.40" y="225.30" font-size="6.5" text-anchor="middle" font-weight="bold" fill="#000" stroke="#000" stroke-width="0.12" >0</text>
<text x="127.20" y="229.00" font-size="6.6" text-anchor="start" font-weight="bold" fill="#000" stroke="#000" stroke-width="0.12" >Log</text>
<text x="139.10" y="230.50" font-size="4.6" text-anchor="start" font-weight="bold" fill="#000" stroke="#000" stroke-width="0.08" >10</text>
<text x="145.80" y="229.00" font-size="6.6" text-anchor="start" font-weight="bold" fill="#000" stroke="#000" stroke-width="0.12" >AmB uM</text>
<text transform="translate(5.6,136) rotate(-90)" font-size="6.5" font-weight="bold" stroke="#000" stroke-width="0.12" text-anchor="middle">% viability</text>
<text x="13.00" y="8.10" font-size="12.5" text-anchor="start" font-weight="bold" fill="#000" stroke="#000" stroke-width="0.12" textLength="9.4" lengthAdjust="spacingAndGlyphs">a.</text>
<path d="M370.9,19.4 L372.4,19.6 L373.9,19.8 L375.4,20.0 L376.9,20.2 L378.4,20.5 L379.9,20.7 L381.4,21.0 L382.9,21.2 L384.4,21.5 L385.9,21.8 L387.4,22.1 L388.9,22.4 L390.4,22.7 L391.9,23.1 L393.4,23.4 L394.9,23.8 L396.4,24.1 L397.9,24.5 L399.4,24.9 L400.9,25.3 L402.4,25.8 L403.9,26.2 L405.4,26.7 L406.9,27.2 L408.4,27.7 L409.8,28.2 L411.3,28.7 L412.8,29.3 L414.3,29.9 L415.8,30.5 L417.3,31.1 L418.8,31.7 L420.3,32.4 L421.8,33.1 L423.3,33.8 L424.8,34.5 L426.3,35.3 L427.8,36.1 L429.3,36.9 L430.8,37.7 L432.3,38.6 L433.8,39.5 L435.3,40.4 L436.8,41.4 L438.3,42.4 L439.8,43.4 L441.3,44.4 L442.8,45.5 L444.3,46.6 L445.8,47.7 L447.3,48.9 L448.8,50.1 L450.3,51.4 L451.8,52.6 L453.3,53.9 L454.8,55.3 L456.3,56.6 L457.8,58.0 L459.3,59.5 L460.8,60.9 L462.3,62.4 L463.8,64.0 L465.3,65.6 L466.8,67.2 L468.3,68.8 L469.8,70.5 L471.3,72.2 L472.8,73.9 L474.3,75.6 L475.8,77.4 L477.3,79.2 L478.8,81.1 L480.3,82.9 L481.8,84.8 L483.3,86.7 L484.8,88.7 L486.3,90.6 L487.7,92.6 L489.2,94.6 L490.7,96.6 L492.2,98.6 L493.7,100.7 L495.2,102.7 L496.7,104.8 L498.2,106.9 L499.7,108.9 L501.2,111.0 L502.7,113.1 L504.2,115.2 L505.7,117.3 L507.2,119.3 L508.7,121.4 L510.2,123.5 L511.7,125.5 L513.2,127.6 L514.7,129.6 L516.2,131.7 L517.7,133.7 L519.2,135.7 L520.7,137.7 L522.2,139.6 L523.7,141.6 L525.2,143.5 L526.7,145.4 L528.2,147.2 L529.7,149.1 L531.2,150.9 L532.7,152.7 L534.2,154.4 L535.7,156.2 L537.2,157.9 L538.7,159.5 L540.2,161.2 L541.7,162.8 L543.2,164.4 L544.7,165.9 L546.2,167.4 L547.7,168.9 L549.2,170.3 L550.7,171.7 L552.2,173.1 L553.7,174.5 L555.2,175.8 L556.7,177.0 L558.2,178.3 L559.7,179.5 L561.2,180.7 L562.7,181.8 L564.2,182.9 L565.6,184.0 L567.1,185.1 L568.6,186.1 L570.1,187.1 L571.6,188.0 L573.1,189.0 L574.6,189.9 L576.1,190.7 L577.6,191.6 L579.1,192.4 L580.6,193.2 L582.1,194.0 L583.6,194.7 L585.1,195.4 L586.6,196.1 L588.1,196.8 L589.6,197.4 L591.1,198.0 L592.6,198.6 L594.1,199.2 L595.6,199.8 L597.1,200.3 L598.6,200.9 L600.1,201.4 L601.6,201.8 L603.1,202.3 L604.6,202.8 L606.1,203.2 L607.6,203.6 L609.1,204.0 L610.6,204.4" fill="none" stroke="#800000" stroke-width="1"/>
<path d="M370.9,14.7 L372.4,14.8 L373.9,14.8 L375.4,14.8 L376.9,14.8 L378.4,14.8 L379.9,14.8 L381.4,14.8 L382.9,14.9 L384.4,14.9 L385.9,14.9 L387.4,14.9 L388.9,14.9 L390.4,15.0 L391.9,15.0 L393.4,15.0 L394.9,15.0 L396.4,15.1 L397.9,15.1 L399.4,15.1 L400.9,15.2 L402.4,15.2 L403.9,15.3 L405.4,15.3 L406.9,15.4 L408.4,15.4 L409.8,15.5 L411.3,15.5 L412.8,15.6 L414.3,15.7 L415.8,15.8 L417.3,15.8 L418.8,15.9 L420.3,16.0 L421.8,16.1 L423.3,16.2 L424.8,16.3 L426.3,16.5 L427.8,16.6 L429.3,16.7 L430.8,16.9 L432.3,17.0 L433.8,17.2 L435.3,17.4 L436.8,17.6 L438.3,17.8 L439.8,18.0 L441.3,18.3 L442.8,18.5 L444.3,18.8 L445.8,19.1 L447.3,19.4 L448.8,19.7 L450.3,20.1 L451.8,20.5 L453.3,20.9 L454.8,21.3 L456.3,21.7 L457.8,22.2 L459.3,22.8 L460.8,23.3 L462.3,23.9 L463.8,24.5 L465.3,25.2 L466.8,25.9 L468.3,26.7 L469.8,27.5 L471.3,28.3 L472.8,29.2 L474.3,30.2 L475.8,31.2 L477.3,32.3 L478.8,33.4 L480.3,34.6 L481.8,35.9 L483.3,37.3 L484.8,38.7 L486.3,40.2 L487.7,41.7 L489.2,43.4 L490.7,45.1 L492.2,47.0 L493.7,48.9 L495.2,50.9 L496.7,52.9 L498.2,55.1 L499.7,57.4 L501.2,59.7 L502.7,62.2 L504.2,64.7 L505.7,67.3 L507.2,70.1 L508.7,72.9 L510.2,75.7 L511.7,78.7 L513.2,81.7 L514.7,84.8 L516.2,88.0 L517.7,91.2 L519.2,94.4 L520.7,97.8 L522.2,101.1 L523.7,104.5 L525.2,107.9 L526.7,111.3 L528.2,114.8 L529.7,118.2 L531.2,121.6 L532.7,125.0 L534.2,128.4 L535.7,131.7 L537.2,135.0 L538.7,138.3 L540.2,141.5 L541.7,144.6 L543.2,147.7 L544.7,150.7 L546.2,153.6 L547.7,156.5 L549.2,159.3 L550.7,162.0 L552.2,164.6 L553.7,167.1 L555.2,169.5 L556.7,171.8 L558.2,174.1 L559.7,176.2 L561.2,178.3 L562.7,180.2 L564.2,182.1 L565.6,183.9 L567.1,185.6 L568.6,187.3 L570.1,188.8 L571.6,190.3 L573.1,191.7 L574.6,193.0 L576.1,194.3 L577.6,195.5 L579.1,196.6 L580.6,197.7 L582.1,198.7 L583.6,199.6 L585.1,200.5 L586.6,201.3 L588.1,202.1 L589.6,202.9 L591.1,203.6 L592.6,204.2 L594.1,204.9 L595.6,205.4 L597.1,206.0 L598.6,206.5 L600.1,207.0 L601.6,207.4 L603.1,207.9 L604.6,208.2 L606.1,208.6 L607.6,209.0 L609.1,209.3 L610.6,209.6" fill="none" stroke="#ff0000" stroke-width="1"/>
<path d="M370.9,14.6 L372.4,14.6 L373.9,14.6 L375.4,14.6 L376.9,14.6 L378.4,14.6 L379.9,14.6 L381.4,14.6 L382.9,14.6 L384.4,14.6 L385.9,14.6 L387.4,14.6 L388.9,14.6 L390.4,14.6 L391.9,14.6 L393.4,14.6 L394.9,14.6 L396.4,14.6 L397.9,14.6 L399.4,14.7 L400.9,14.7 L402.4,14.7 L403.9,14.7 L405.4,14.7 L406.9,14.7 L408.4,14.7 L409.8,14.7 L411.3,14.7 L412.8,14.7 L414.3,14.7 L415.8,14.8 L417.3,14.8 L418.8,14.8 L420.3,14.8 L421.8,14.8 L423.3,14.9 L424.8,14.9 L426.3,14.9 L427.8,14.9 L429.3,15.0 L430.8,15.0 L432.3,15.0 L433.8,15.1 L435.3,15.1 L436.8,15.2 L438.3,15.3 L439.8,15.3 L441.3,15.4 L442.8,15.5 L444.3,15.6 L445.8,15.7 L447.3,15.8 L448.8,15.9 L450.3,16.0 L451.8,16.2 L453.3,16.3 L454.8,16.5 L456.3,16.7 L457.8,16.9 L459.3,17.1 L460.8,17.4 L462.3,17.7 L463.8,18.0 L465.3,18.3 L466.8,18.7 L468.3,19.1 L469.8,19.5 L471.3,20.0 L472.8,20.5 L474.3,21.1 L475.8,21.8 L477.3,22.5 L478.8,23.2 L480.3,24.1 L481.8,25.0 L483.3,26.0 L484.8,27.1 L486.3,28.2 L487.7,29.5 L489.2,30.9 L490.7,32.4 L492.2,34.1 L493.7,35.8 L495.2,37.7 L496.7,39.8 L498.2,42.0 L499.7,44.4 L501.2,46.9 L502.7,49.6 L504.2,52.5 L505.7,55.5 L507.2,58.8 L508.7,62.2 L510.2,65.8 L511.7,69.5 L513.2,73.5 L514.7,77.5 L516.2,81.8 L517.7,86.2 L519.2,90.7 L520.7,95.2 L522.2,99.9 L523.7,104.7 L525.2,109.5 L526.7,114.3 L528.2,119.1 L529.7,123.9 L531.2,128.7 L532.7,133.3 L534.2,137.9 L535.7,142.4 L537.2,146.8 L538.7,151.1 L540.2,155.1 L541.7,159.1 L543.2,162.8 L544.7,166.4 L546.2,169.8 L547.7,173.1 L549.2,176.1 L550.7,179.0 L552.2,181.7 L553.7,184.2 L555.2,186.6 L556.7,188.8 L558.2,190.9 L559.7,192.8 L561.2,194.5 L562.7,196.2 L564.2,197.7 L565.6,199.1 L567.1,200.4 L568.6,201.5 L570.1,202.6 L571.6,203.6 L573.1,204.5 L574.6,205.4 L576.1,206.1 L577.6,206.8 L579.1,207.5 L580.6,208.0 L582.1,208.6 L583.6,209.1 L585.1,209.5 L586.6,209.9 L588.1,210.3 L589.6,210.6 L591.1,210.9 L592.6,211.2 L594.1,211.5 L595.6,211.7 L597.1,211.9 L598.6,212.1 L600.1,212.3 L601.6,212.4 L603.1,212.6 L604.6,212.7 L606.1,212.8 L607.6,212.9 L609.1,213.0 L610.6,213.1" fill="none" stroke="#33ff33" stroke-width="1"/>
<path d="M370.9,14.6 L372.4,14.6 L373.9,14.6 L375.4,14.6 L376.9,14.6 L378.4,14.6 L379.9,14.6 L381.4,14.6 L382.9,14.6 L384.4,14.6 L385.9,14.6 L387.4,14.6 L388.9,14.6 L390.4,14.6 L391.9,14.6 L393.4,14.6 L394.9,14.6 L396.4,14.6 L397.9,14.6 L399.4,14.6 L400.9,14.6 L402.4,14.6 L403.9,14.6 L405.4,14.6 L406.9,14.6 L408.4,14.6 L409.8,14.6 L411.3,14.6 L412.8,14.6 L414.3,14.6 L415.8,14.6 L417.3,14.6 L418.8,14.6 L420.3,14.6 L421.8,14.6 L423.3,14.6 L424.8,14.6 L426.3,14.6 L427.8,14.6 L429.3,14.6 L430.8,14.6 L432.3,14.6 L433.8,14.6 L435.3,14.6 L436.8,14.6 L438.3,14.6 L439.8,14.6 L441.3,14.6 L442.8,14.6 L444.3,14.6 L445.8,14.6 L447.3,14.7 L448.8,14.7 L450.3,14.7 L451.8,14.7 L453.3,14.7 L454.8,14.7 L456.3,14.7 L457.8,14.7 L459.3,14.8 L460.8,14.8 L462.3,14.8 L463.8,14.9 L465.3,14.9 L466.8,15.0 L468.3,15.0 L469.8,15.1 L471.3,15.2 L472.8,15.3 L474.3,15.4 L475.8,15.5 L477.3,15.7 L478.8,15.9 L480.3,16.1 L481.8,16.3 L483.3,16.6 L484.8,17.0 L486.3,17.3 L487.7,17.8 L489.2,18.3 L490.7,18.9 L492.2,19.6 L493.7,20.4 L495.2,21.4 L496.7,22.4 L498.2,23.7 L499.7,25.1 L501.2,26.7 L502.7,28.6 L504.2,30.8 L505.7,33.2 L507.2,36.0 L508.7,39.1 L510.2,42.6 L511.7,46.5 L513.2,50.8 L514.7,55.6 L516.2,60.8 L517.7,66.5 L519.2,72.6 L520.7,79.1 L522.2,86.0 L523.7,93.2 L525.2,100.6 L526.7,108.2 L528.2,115.8 L529.7,123.5 L531.2,131.0 L532.7,138.3 L534.2,145.4 L535.7,152.1 L537.2,158.5 L538.7,164.4 L540.2,169.9 L541.7,175.0 L543.2,179.6 L544.7,183.7 L546.2,187.5 L547.7,190.8 L549.2,193.8 L550.7,196.4 L552.2,198.7 L553.7,200.8 L555.2,202.5 L556.7,204.1 L558.2,205.4 L559.7,206.6 L561.2,207.6 L562.7,208.5 L564.2,209.3 L565.6,209.9 L567.1,210.5 L568.6,211.0 L570.1,211.4 L571.6,211.8 L573.1,212.1 L574.6,212.4 L576.1,212.6 L577.6,212.8 L579.1,213.0 L580.6,213.1 L582.1,213.2 L583.6,213.3 L585.1,213.4 L586.6,213.5 L588.1,213.6 L589.6,213.6 L591.1,213.7 L592.6,213.7 L594.1,213.8 L595.6,213.8 L597.1,213.8 L598.6,213.9 L600.1,213.9 L601.6,213.9 L603.1,213.9 L604.6,213.9 L606.1,213.9 L607.6,213.9 L609.1,214.0 L610.6,214.0" fill="none" stroke="#ff00ff" stroke-width="1"/>
<path d="M370.9,14.6 L372.4,14.6 L373.9,14.6 L375.4,14.6 L376.9,14.6 L378.4,14.6 L379.9,14.6 L381.4,14.6 L382.9,14.6 L384.4,14.6 L385.9,14.6 L387.4,14.6 L388.9,14.6 L390.4,14.6 L391.9,14.6 L393.4,14.6 L394.9,14.6 L396.4,14.6 L397.9,14.6 L399.4,14.6 L400.9,14.6 L402.4,14.6 L403.9,14.6 L405.4,14.6 L406.9,14.6 L408.4,14.6 L409.8,14.6 L411.3,14.7 L412.8,14.7 L414.3,14.7 L415.8,14.7 L417.3,14.7 L418.8,14.7 L420.3,14.7 L421.8,14.7 L423.3,14.7 L424.8,14.7 L426.3,14.7 L427.8,14.8 L429.3,14.8 L430.8,14.8 L432.3,14.8 L433.8,14.8 L435.3,14.9 L436.8,14.9 L438.3,14.9 L439.8,15.0 L441.3,15.0 L442.8,15.0 L444.3,15.1 L445.8,15.1 L447.3,15.2 L448.8,15.2 L450.3,15.3 L451.8,15.4 L453.3,15.5 L454.8,15.6 L456.3,15.7 L457.8,15.8 L459.3,15.9 L460.8,16.0 L462.3,16.2 L463.8,16.3 L465.3,16.5 L466.8,16.7 L468.3,16.9 L469.8,17.2 L471.3,17.4 L472.8,17.7 L474.3,18.0 L475.8,18.4 L477.3,18.8 L478.8,19.2 L480.3,19.6 L481.8,20.2 L483.3,20.7 L484.8,21.3 L486.3,22.0 L487.7,22.7 L489.2,23.5 L490.7,24.4 L492.2,25.4 L493.7,26.4 L495.2,27.6 L496.7,28.8 L498.2,30.2 L499.7,31.7 L501.2,33.3 L502.7,35.0 L504.2,36.9 L505.7,39.0 L507.2,41.2 L508.7,43.5 L510.2,46.1 L511.7,48.8 L513.2,51.7 L514.7,54.7 L516.2,58.0 L517.7,61.4 L519.2,65.1 L520.7,68.9 L522.2,72.9 L523.7,77.1 L525.2,81.4 L526.7,85.8 L528.2,90.4 L529.7,95.1 L531.2,99.9 L532.7,104.8 L534.2,109.7 L535.7,114.6 L537.2,119.5 L538.7,124.4 L540.2,129.3 L541.7,134.0 L543.2,138.7 L544.7,143.3 L546.2,147.7 L547.7,152.0 L549.2,156.2 L550.7,160.2 L552.2,163.9 L553.7,167.6 L555.2,171.0 L556.7,174.2 L558.2,177.3 L559.7,180.2 L561.2,182.8 L562.7,185.4 L564.2,187.7 L565.6,189.9 L567.1,191.9 L568.6,193.8 L570.1,195.5 L571.6,197.1 L573.1,198.6 L574.6,199.9 L576.1,201.1 L577.6,202.3 L579.1,203.3 L580.6,204.3 L582.1,205.2 L583.6,206.0 L585.1,206.7 L586.6,207.4 L588.1,208.0 L589.6,208.5 L591.1,209.0 L592.6,209.5 L594.1,209.9 L595.6,210.3 L597.1,210.6 L598.6,210.9 L600.1,211.2 L601.6,211.5 L603.1,211.7 L604.6,211.9 L606.1,212.1 L607.6,212.3 L609.1,212.5 L610.6,212.6" fill="none" stroke="#ff9933" stroke-width="1"/>
<path d="M370.9,14.6 L372.4,14.6 L373.9,14.6 L375.4,14.6 L376.9,14.6 L378.4,14.6 L379.9,14.6 L381.4,14.6 L382.9,14.6 L384.4,14.6 L385.9,14.6 L387.4,14.6 L388.9,14.6 L390.4,14.6 L391.9,14.6 L393.4,14.6 L394.9,14.6 L396.4,14.6 L397.9,14.6 L399.4,14.6 L400.9,14.6 L402.4,14.6 L403.9,14.6 L405.4,14.6 L406.9,14.6 L408.4,14.6 L409.8,14.6 L411.3,14.6 L412.8,14.6 L414.3,14.6 L415.8,14.6 L417.3,14.6 L418.8,14.6 L420.3,14.6 L421.8,14.6 L423.3,14.6 L424.8,14.6 L426.3,14.6 L427.8,14.6 L429.3,14.6 L430.8,14.6 L432.3,14.6 L433.8,14.6 L435.3,14.6 L436.8,14.6 L438.3,14.6 L439.8,14.6 L441.3,14.6 L442.8,14.6 L444.3,14.6 L445.8,14.6 L447.3,14.6 L448.8,14.6 L450.3,14.6 L451.8,14.6 L453.3,14.6 L454.8,14.7 L456.3,14.7 L457.8,14.7 L459.3,14.7 L460.8,14.7 L462.3,14.7 L463.8,14.7 L465.3,14.8 L466.8,14.8 L468.3,14.8 L469.8,14.8 L471.3,14.9 L472.8,14.9 L474.3,15.0 L475.8,15.0 L477.3,15.1 L478.8,15.2 L480.3,15.3 L481.8,15.4 L483.3,15.5 L484.8,15.7 L486.3,15.8 L487.7,16.1 L489.2,16.3 L490.7,16.6 L492.2,16.9 L493.7,17.2 L495.2,17.7 L496.7,18.1 L498.2,18.7 L499.7,19.4 L501.2,20.1 L502.7,21.0 L504.2,22.0 L505.7,23.1 L507.2,24.4 L508.7,25.9 L510.2,27.6 L511.7,29.6 L513.2,31.8 L514.7,34.3 L516.2,37.2 L517.7,40.4 L519.2,44.0 L520.7,47.9 L522.2,52.3 L523.7,57.1 L525.2,62.4 L526.7,68.1 L528.2,74.1 L529.7,80.6 L531.2,87.4 L532.7,94.5 L534.2,101.8 L535.7,109.2 L537.2,116.7 L538.7,124.2 L540.2,131.6 L541.7,138.7 L543.2,145.6 L544.7,152.2 L546.2,158.4 L547.7,164.3 L549.2,169.7 L550.7,174.6 L552.2,179.2 L553.7,183.3 L555.2,187.0 L556.7,190.3 L558.2,193.3 L559.7,195.9 L561.2,198.2 L562.7,200.3 L564.2,202.1 L565.6,203.7 L567.1,205.0 L568.6,206.3 L570.1,207.3 L571.6,208.2 L573.1,209.0 L574.6,209.7 L576.1,210.3 L577.6,210.8 L579.1,211.2 L580.6,211.6 L582.1,211.9 L583.6,212.2 L585.1,212.5 L586.6,212.7 L588.1,212.9 L589.6,213.0 L591.1,213.2 L592.6,213.3 L594.1,213.4 L595.6,213.5 L597.1,213.5 L598.6,213.6 L600.1,213.7 L601.6,213.7 L603.1,213.7 L604.6,213.8 L606.1,213.8 L607.6,213.8 L609.1,213.9 L610.6,213.9" fill="none" stroke="#008000" stroke-width="1"/>
<path d="M370.9,14.6 L372.4,14.6 L373.9,14.6 L375.4,14.6 L376.9,14.6 L378.4,14.6 L379.9,14.6 L381.4,14.6 L382.9,14.6 L384.4,14.6 L385.9,14.6 L387.4,14.6 L388.9,14.6 L390.4,14.6 L391.9,14.6 L393.4,14.6 L394.9,14.6 L396.4,14.6 L397.9,14.6 L399.4,14.6 L400.9,14.6 L402.4,14.6 L403.9,14.6 L405.4,14.6 L406.9,14.6 L408.4,14.6 L409.8,14.6 L411.3,14.6 L412.8,14.6 L414.3,14.6 L415.8,14.6 L417.3,14.6 L418.8,14.6 L420.3,14.6 L421.8,14.6 L423.3,14.6 L424.8,14.6 L426.3,14.6 L427.8,14.6 L429.3,14.6 L430.8,14.6 L432.3,14.6 L433.8,14.6 L435.3,14.6 L436.8,14.6 L438.3,14.6 L439.8,14.6 L441.3,14.6 L442.8,14.6 L444.3,14.6 L445.8,14.6 L447.3,14.6 L448.8,14.6 L450.3,14.6 L451.8,14.6 L453.3,14.7 L454.8,14.7 L456.3,14.7 L457.8,14.7 L459.3,14.7 L460.8,14.7 L462.3,14.7 L463.8,14.8 L465.3,14.8 L466.8,14.8 L468.3,14.8 L469.8,14.9 L471.3,14.9 L472.8,15.0 L474.3,15.0 L475.8,15.1 L477.3,15.1 L478.8,15.2 L480.3,15.3 L481.8,15.4 L483.3,15.6 L484.8,15.7 L486.3,15.9 L487.7,16.1 L489.2,16.3 L490.7,16.6 L492.2,16.8 L493.7,17.2 L495.2,17.6 L496.7,18.0 L498.2,18.5 L499.7,19.1 L501.2,19.8 L502.7,20.6 L504.2,21.4 L505.7,22.4 L507.2,23.6 L508.7,24.9 L510.2,26.3 L511.7,28.0 L513.2,29.9 L514.7,32.0 L516.2,34.4 L517.7,37.1 L519.2,40.1 L520.7,43.4 L522.2,47.1 L523.7,51.1 L525.2,55.5 L526.7,60.3 L528.2,65.5 L529.7,71.1 L531.2,77.0 L532.7,83.2 L534.2,89.7 L535.7,96.5 L537.2,103.4 L538.7,110.4 L540.2,117.5 L541.7,124.6 L543.2,131.5 L544.7,138.3 L546.2,144.8 L547.7,151.1 L549.2,157.0 L550.7,162.6 L552.2,167.8 L553.7,172.7 L555.2,177.1 L556.7,181.2 L558.2,184.9 L559.7,188.2 L561.2,191.3 L562.7,194.0 L564.2,196.4 L565.6,198.5 L567.1,200.4 L568.6,202.1 L570.1,203.6 L571.6,204.9 L573.1,206.1 L574.6,207.1 L576.1,208.0 L577.6,208.8 L579.1,209.4 L580.6,210.0 L582.1,210.5 L583.6,211.0 L585.1,211.4 L586.6,211.7 L588.1,212.0 L589.6,212.3 L591.1,212.5 L592.6,212.7 L594.1,212.9 L595.6,213.0 L597.1,213.2 L598.6,213.3 L600.1,213.4 L601.6,213.4 L603.1,213.5 L604.6,213.6 L606.1,213.6 L607.6,213.7 L609.1,213.7 L610.6,213.8" fill="none" stroke="#000000" stroke-width="1"/>
<path d="M370.9,14.6 L372.4,14.6 L373.9,14.6 L375.4,14.6 L376.9,14.6 L378.4,14.6 L379.9,14.6 L381.4,14.6 L382.9,14.6 L384.4,14.6 L385.9,14.6 L387.4,14.6 L388.9,14.6 L390.4,14.6 L391.9,14.6 L393.4,14.6 L394.9,14.6 L396.4,14.6 L397.9,14.6 L399.4,14.6 L400.9,14.6 L402.4,14.6 L403.9,14.6 L405.4,14.6 L406.9,14.6 L408.4,14.6 L409.8,14.6 L411.3,14.6 L412.8,14.6 L414.3,14.6 L415.8,14.6 L417.3,14.6 L418.8,14.6 L420.3,14.6 L421.8,14.6 L423.3,14.6 L424.8,14.6 L426.3,14.6 L427.8,14.6 L429.3,14.6 L430.8,14.6 L432.3,14.6 L433.8,14.6 L435.3,14.6 L436.8,14.6 L438.3,14.6 L439.8,14.6 L441.3,14.6 L442.8,14.6 L444.3,14.6 L445.8,14.6 L447.3,14.7 L448.8,14.7 L450.3,14.7 L451.8,14.7 L453.3,14.7 L454.8,14.7 L456.3,14.7 L457.8,14.7 L459.3,14.7 L460.8,14.8 L462.3,14.8 L463.8,14.8 L465.3,14.8 L466.8,14.9 L468.3,14.9 L469.8,15.0 L471.3,15.0 L472.8,15.1 L474.3,15.1 L475.8,15.2 L477.3,15.3 L478.8,15.4 L480.3,15.5 L481.8,15.6 L483.3,15.8 L484.8,15.9 L486.3,16.1 L487.7,16.3 L489.2,16.5 L490.7,16.8 L492.2,17.1 L493.7,17.5 L495.2,17.8 L496.7,18.3 L498.2,18.8 L499.7,19.4 L501.2,20.0 L502.7,20.7 L504.2,21.5 L505.7,22.5 L507.2,23.5 L508.7,24.7 L510.2,26.0 L511.7,27.5 L513.2,29.2 L514.7,31.0 L516.2,33.1 L517.7,35.4 L519.2,37.9 L520.7,40.7 L522.2,43.8 L523.7,47.2 L525.2,50.9 L526.7,55.0 L528.2,59.3 L529.7,64.0 L531.2,69.0 L532.7,74.3 L534.2,79.8 L535.7,85.7 L537.2,91.7 L538.7,97.9 L540.2,104.3 L541.7,110.8 L543.2,117.2 L544.7,123.7 L546.2,130.1 L547.7,136.3 L549.2,142.4 L550.7,148.2 L552.2,153.8 L553.7,159.1 L555.2,164.2 L556.7,168.9 L558.2,173.2 L559.7,177.3 L561.2,181.0 L562.7,184.5 L564.2,187.6 L565.6,190.4 L567.1,193.0 L568.6,195.3 L570.1,197.4 L571.6,199.3 L573.1,201.0 L574.6,202.5 L576.1,203.8 L577.6,205.0 L579.1,206.0 L580.6,207.0 L582.1,207.8 L583.6,208.5 L585.1,209.2 L586.6,209.8 L588.1,210.3 L589.6,210.7 L591.1,211.1 L592.6,211.5 L594.1,211.8 L595.6,212.0 L597.1,212.3 L598.6,212.5 L600.1,212.7 L601.6,212.8 L603.1,213.0 L604.6,213.1 L606.1,213.2 L607.6,213.3 L609.1,213.4 L610.6,213.5" fill="none" stroke="#cc66ff" stroke-width="1"/>
<path d="M370.9,14.6 L372.4,14.6 L373.9,14.6 L375.4,14.6 L376.9,14.6 L378.4,14.6 L379.9,14.6 L381.4,14.6 L382.9,14.6 L384.4,14.6 L385.9,14.6 L387.4,14.6 L388.9,14.6 L390.4,14.6 L391.9,14.6 L393.4,14.6 L394.9,14.6 L396.4,14.6 L397.9,14.6 L399.4,14.6 L400.9,14.6 L402.4,14.6 L403.9,14.6 L405.4,14.6 L406.9,14.6 L408.4,14.6 L409.8,14.6 L411.3,14.6 L412.8,14.6 L414.3,14.6 L415.8,14.6 L417.3,14.6 L418.8,14.6 L420.3,14.6 L421.8,14.6 L423.3,14.6 L424.8,14.6 L426.3,14.6 L427.8,14.6 L429.3,14.6 L430.8,14.6 L432.3,14.6 L433.8,14.6 L435.3,14.6 L436.8,14.6 L438.3,14.6 L439.8,14.6 L441.3,14.6 L442.8,14.6 L444.3,14.6 L445.8,14.6 L447.3,14.6 L448.8,14.6 L450.3,14.6 L451.8,14.6 L453.3,14.6 L454.8,14.6 L456.3,14.6 L457.8,14.6 L459.3,14.6 L460.8,14.7 L462.3,14.7 L463.8,14.7 L465.3,14.7 L466.8,14.7 L468.3,14.7 L469.8,14.7 L471.3,14.7 L472.8,14.8 L474.3,14.8 L475.8,14.8 L477.3,14.9 L478.8,14.9 L480.3,14.9 L481.8,15.0 L483.3,15.1 L484.8,15.1 L486.3,15.2 L487.7,15.3 L489.2,15.4 L490.7,15.6 L492.2,15.7 L493.7,15.9 L495.2,16.1 L496.7,16.3 L498.2,16.6 L499.7,16.9 L501.2,17.3 L502.7,17.7 L504.2,18.2 L505.7,18.8 L507.2,19.5 L508.7,20.2 L510.2,21.1 L511.7,22.1 L513.2,23.2 L514.7,24.5 L516.2,26.0 L517.7,27.7 L519.2,29.7 L520.7,31.9 L522.2,34.4 L523.7,37.2 L525.2,40.3 L526.7,43.8 L528.2,47.7 L529.7,52.0 L531.2,56.7 L532.7,61.9 L534.2,67.4 L535.7,73.4 L537.2,79.7 L538.7,86.4 L540.2,93.3 L541.7,100.5 L543.2,107.8 L544.7,115.2 L546.2,122.5 L547.7,129.8 L549.2,136.9 L550.7,143.8 L552.2,150.4 L553.7,156.7 L555.2,162.5 L556.7,168.0 L558.2,173.0 L559.7,177.6 L561.2,181.8 L562.7,185.6 L564.2,189.1 L565.6,192.1 L567.1,194.8 L568.6,197.3 L570.1,199.4 L571.6,201.3 L573.1,202.9 L574.6,204.4 L576.1,205.7 L577.6,206.8 L579.1,207.7 L580.6,208.6 L582.1,209.3 L583.6,209.9 L585.1,210.5 L586.6,211.0 L588.1,211.4 L589.6,211.7 L591.1,212.0 L592.6,212.3 L594.1,212.5 L595.6,212.7 L597.1,212.9 L598.6,213.1 L600.1,213.2 L601.6,213.3 L603.1,213.4 L604.6,213.5 L606.1,213.6 L607.6,213.6 L609.1,213.7 L610.6,213.7" fill="none" stroke="#00ffff" stroke-width="1"/>
<path d="M370.9,14.6 L372.4,14.6 L373.9,14.6 L375.4,14.6 L376.9,14.6 L378.4,14.6 L379.9,14.6 L381.4,14.6 L382.9,14.6 L384.4,14.6 L385.9,14.6 L387.4,14.6 L388.9,14.6 L390.4,14.6 L391.9,14.6 L393.4,14.6 L394.9,14.6 L396.4,14.6 L397.9,14.6 L399.4,14.6 L400.9,14.6 L402.4,14.6 L403.9,14.6 L405.4,14.6 L406.9,14.6 L408.4,14.6 L409.8,14.6 L411.3,14.6 L412.8,14.6 L414.3,14.6 L415.8,14.6 L417.3,14.6 L418.8,14.6 L420.3,14.6 L421.8,14.6 L423.3,14.6 L424.8,14.6 L426.3,14.6 L427.8,14.6 L429.3,14.6 L430.8,14.6 L432.3,14.6 L433.8,14.7 L435.3,14.7 L436.8,14.7 L438.3,14.7 L439.8,14.7 L441.3,14.7 L442.8,14.7 L444.3,14.7 L445.8,14.7 L447.3,14.7 L448.8,14.8 L450.3,14.8 L451.8,14.8 L453.3,14.8 L454.8,14.8 L456.3,14.9 L457.8,14.9 L459.3,14.9 L460.8,15.0 L462.3,15.0 L463.8,15.1 L465.3,15.1 L466.8,15.2 L468.3,15.2 L469.8,15.3 L471.3,15.4 L472.8,15.5 L474.3,15.6 L475.8,15.7 L477.3,15.8 L478.8,16.0 L480.3,16.1 L481.8,16.3 L483.3,16.5 L484.8,16.7 L486.3,16.9 L487.7,17.2 L489.2,17.5 L490.7,17.8 L492.2,18.1 L493.7,18.5 L495.2,19.0 L496.7,19.5 L498.2,20.0 L499.7,20.6 L501.2,21.3 L502.7,22.0 L504.2,22.9 L505.7,23.8 L507.2,24.8 L508.7,25.9 L510.2,27.1 L511.7,28.4 L513.2,29.9 L514.7,31.5 L516.2,33.2 L517.7,35.1 L519.2,37.2 L520.7,39.5 L522.2,41.9 L523.7,44.6 L525.2,47.5 L526.7,50.6 L528.2,53.9 L529.7,57.4 L531.2,61.2 L532.7,65.1 L534.2,69.3 L535.7,73.8 L537.2,78.4 L538.7,83.2 L540.2,88.1 L541.7,93.2 L543.2,98.5 L544.7,103.8 L546.2,109.2 L547.7,114.6 L549.2,120.0 L550.7,125.3 L552.2,130.6 L553.7,135.9 L555.2,140.9 L556.7,145.9 L558.2,150.7 L559.7,155.3 L561.2,159.7 L562.7,163.8 L564.2,167.8 L565.6,171.6 L567.1,175.1 L568.6,178.4 L570.1,181.4 L571.6,184.3 L573.1,186.9 L574.6,189.4 L576.1,191.6 L577.6,193.7 L579.1,195.6 L580.6,197.3 L582.1,198.9 L583.6,200.3 L585.1,201.7 L586.6,202.9 L588.1,203.9 L589.6,204.9 L591.1,205.8 L592.6,206.6 L594.1,207.4 L595.6,208.0 L597.1,208.6 L598.6,209.2 L600.1,209.7 L601.6,210.1 L603.1,210.5 L604.6,210.8 L606.1,211.2 L607.6,211.5 L609.1,211.7 L610.6,211.9" fill="none" stroke="#2f5f9f" stroke-width="1"/>
<path d="M370.9,14.6 L372.4,14.6 L373.9,14.6 L375.4,14.6 L376.9,14.6 L378.4,14.6 L379.9,14.6 L381.4,14.6 L382.9,14.6 L384.4,14.6 L385.9,14.6 L387.4,14.6 L388.9,14.6 L390.4,14.6 L391.9,14.6 L393.4,14.6 L394.9,14.6 L396.4,14.6 L397.9,14.6 L399.4,14.6 L400.9,14.6 L402.4,14.6 L403.9,14.6 L405.4,14.6 L406.9,14.6 L408.4,14.6 L409.8,14.6 L411.3,14.6 L412.8,14.6 L414.3,14.6 L415.8,14.6 L417.3,14.6 L418.8,14.6 L420.3,14.6 L421.8,14.6 L423.3,14.6 L424.8,14.6 L426.3,14.6 L427.8,14.6 L429.3,14.6 L430.8,14.6 L432.3,14.6 L433.8,14.6 L435.3,14.6 L436.8,14.6 L438.3,14.6 L439.8,14.6 L441.3,14.6 L442.8,14.6 L444.3,14.6 L445.8,14.6 L447.3,14.6 L448.8,14.6 L450.3,14.6 L451.8,14.6 L453.3,14.6 L454.8,14.6 L456.3,14.6 L457.8,14.6 L459.3,14.6 L460.8,14.6 L462.3,14.6 L463.8,14.6 L465.3,14.6 L466.8,14.6 L468.3,14.6 L469.8,14.6 L471.3,14.6 L472.8,14.6 L474.3,14.6 L475.8,14.6 L477.3,14.6 L478.8,14.6 L480.3,14.6 L481.8,14.7 L483.3,14.7 L484.8,14.7 L486.3,14.7 L487.7,14.7 L489.2,14.8 L490.7,14.8 L492.2,14.9 L493.7,15.0 L495.2,15.1 L496.7,15.2 L498.2,15.3 L499.7,15.5 L501.2,15.8 L502.7,16.1 L504.2,16.4 L505.7,16.9 L507.2,17.5 L508.7,18.3 L510.2,19.2 L511.7,20.4 L513.2,21.9 L514.7,23.8 L516.2,26.1 L517.7,28.9 L519.2,32.4 L520.7,36.6 L522.2,41.6 L523.7,47.6 L525.2,54.6 L526.7,62.7 L528.2,71.8 L529.7,81.8 L531.2,92.7 L532.7,104.1 L534.2,115.8 L535.7,127.4 L537.2,138.7 L538.7,149.4 L540.2,159.2 L541.7,168.1 L543.2,175.9 L544.7,182.6 L546.2,188.3 L547.7,193.2 L549.2,197.2 L550.7,200.4 L552.2,203.1 L553.7,205.3 L555.2,207.1 L556.7,208.5 L558.2,209.6 L559.7,210.5 L561.2,211.2 L562.7,211.8 L564.2,212.3 L565.6,212.6 L567.1,212.9 L568.6,213.1 L570.1,213.3 L571.6,213.5 L573.1,213.6 L574.6,213.7 L576.1,213.7 L577.6,213.8 L579.1,213.8 L580.6,213.9 L582.1,213.9 L583.6,213.9 L585.1,213.9 L586.6,213.9 L588.1,214.0 L589.6,214.0 L591.1,214.0 L592.6,214.0 L594.1,214.0 L595.6,214.0 L597.1,214.0 L598.6,214.0 L600.1,214.0 L601.6,214.0 L603.1,214.0 L604.6,214.0 L606.1,214.0 L607.6,214.0 L609.1,214.0 L610.6,214.0" fill="none" stroke="#3333ff" stroke-width="1"/>
<path d="M370.9,14.6 L372.4,14.6 L373.9,14.6 L375.4,14.6 L376.9,14.6 L378.4,14.6 L379.9,14.6 L381.4,14.6 L382.9,14.6 L384.4,14.6 L385.9,14.6 L387.4,14.6 L388.9,14.6 L390.4,14.6 L391.9,14.6 L393.4,14.6 L394.9,14.6 L396.4,14.6 L397.9,14.6 L399.4,14.6 L400.9,14.6 L402.4,14.6 L403.9,14.6 L405.4,14.6 L406.9,14.6 L408.4,14.6 L409.8,14.6 L411.3,14.6 L412.8,14.6 L414.3,14.6 L415.8,14.6 L417.3,14.6 L418.8,14.6 L420.3,14.6 L421.8,14.6 L423.3,14.6 L424.8,14.6 L426.3,14.6 L427.8,14.6 L429.3,14.6 L430.8,14.6 L432.3,14.6 L433.8,14.6 L435.3,14.6 L436.8,14.6 L438.3,14.6 L439.8,14.6 L441.3,14.6 L442.8,14.6 L444.3,14.6 L445.8,14.6 L447.3,14.6 L448.8,14.6 L450.3,14.6 L451.8,14.6 L453.3,14.6 L454.8,14.6 L456.3,14.6 L457.8,14.6 L459.3,14.6 L460.8,14.6 L462.3,14.6 L463.8,14.6 L465.3,14.6 L466.8,14.6 L468.3,14.6 L469.8,14.6 L471.3,14.6 L472.8,14.6 L474.3,14.6 L475.8,14.6 L477.3,14.6 L478.8,14.6 L480.3,14.6 L481.8,14.6 L483.3,14.6 L484.8,14.6 L486.3,14.6 L487.7,14.6 L489.2,14.6 L490.7,14.6 L492.2,14.6 L493.7,14.6 L495.2,14.6 L496.7,14.6 L498.2,14.6 L499.7,14.6 L501.2,14.6 L502.7,14.6 L504.2,14.6 L505.7,14.6 L507.2,14.6 L508.7,14.6 L510.2,14.6 L511.7,14.6 L513.2,14.6 L514.7,14.6 L516.2,14.6 L517.7,14.6 L519.2,14.6 L520.7,14.6 L522.2,14.6 L523.7,14.6 L525.2,14.6 L526.7,14.6 L528.2,14.6 L529.7,14.6 L531.2,14.6 L532.7,14.6 L534.2,14.6 L535.7,14.6 L537.2,14.6 L538.7,14.6 L540.2,14.6 L541.7,14.6 L543.2,14.6 L544.7,14.6 L546.2,14.6 L547.7,14.7 L549.2,14.7 L550.7,14.8 L552.2,14.9 L553.7,15.1 L555.2,15.4 L556.7,16.0 L558.2,17.0 L559.7,18.6 L561.2,21.3 L562.7,25.9 L564.2,33.1 L565.6,44.4 L567.1,60.7 L568.6,82.3 L570.1,107.9 L571.6,134.4 L573.1,158.3 L574.6,177.1 L576.1,190.7 L577.6,199.7 L579.1,205.4 L580.6,208.9 L582.1,211.0 L583.6,212.2 L585.1,213.0 L586.6,213.4 L588.1,213.6 L589.6,213.8 L591.1,213.9 L592.6,213.9 L594.1,214.0 L595.6,214.0 L597.1,214.0 L598.6,214.0 L600.1,214.0 L601.6,214.0 L603.1,214.0 L604.6,214.0 L606.1,214.0 L607.6,214.0 L609.1,214.0 L610.6,214.0" fill="none" stroke="#8c8c00" stroke-width="1"/>
<path d="M370.9,14.6 L372.4,14.6 L373.9,14.6 L375.4,14.6 L376.9,14.6 L378.4,14.6 L379.9,14.6 L381.4,14.6 L382.9,14.6 L384.4,14.6 L385.9,14.6 L387.4,14.6 L388.9,14.6 L390.4,14.6 L391.9,14.6 L393.4,14.6 L394.9,14.6 L396.4,14.6 L397.9,14.6 L399.4,14.6 L400.9,14.6 L402.4,14.6 L403.9,14.6 L405.4,14.6 L406.9,14.6 L408.4,14.6 L409.8,14.6 L411.3,14.6 L412.8,14.6 L414.3,14.6 L415.8,14.6 L417.3,14.6 L418.8,14.6 L420.3,14.6 L421.8,14.6 L423.3,14.6 L424.8,14.6 L426.3,14.6 L427.8,14.6 L429.3,14.6 L430.8,14.6 L432.3,14.6 L433.8,14.6 L435.3,14.6 L436.8,14.6 L438.3,14.6 L439.8,14.6 L441.3,14.6 L442.8,14.6 L444.3,14.6 L445.8,14.6 L447.3,14.6 L448.8,14.6 L450.3,14.6 L451.8,14.6 L453.3,14.6 L454.8,14.6 L456.3,14.6 L457.8,14.6 L459.3,14.6 L460.8,14.6 L462.3,14.6 L463.8,14.6 L465.3,14.6 L466.8,14.6 L468.3,14.6 L469.8,14.6 L471.3,14.6 L472.8,14.6 L474.3,14.6 L475.8,14.6 L477.3,14.6 L478.8,14.6 L480.3,14.6 L481.8,14.6 L483.3,14.6 L484.8,14.6 L486.3,14.6 L487.7,14.6 L489.2,14.6 L490.7,14.6 L492.2,14.6 L493.7,14.6 L495.2,14.6 L496.7,14.6 L498.2,14.6 L499.7,14.6 L501.2,14.6 L502.7,14.6 L504.2,14.6 L505.7,14.6 L507.2,14.6 L508.7,14.6 L510.2,14.6 L511.7,14.6 L513.2,14.6 L514.7,14.6 L516.2,14.6 L517.7,14.7 L519.2,14.7 L520.7,14.7 L522.2,14.7 L523.7,14.7 L525.2,14.8 L526.7,14.8 L528.2,14.8 L529.7,14.9 L531.2,14.9 L532.7,15.0 L534.2,15.1 L535.7,15.2 L537.2,15.4 L538.7,15.5 L540.2,15.8 L541.7,16.0 L543.2,16.3 L544.7,16.7 L546.2,17.2 L547.7,17.8 L549.2,18.5 L550.7,19.4 L552.2,20.4 L553.7,21.7 L555.2,23.2 L556.7,25.1 L558.2,27.3 L559.7,29.9 L561.2,33.1 L562.7,36.8 L564.2,41.1 L565.6,46.2 L567.1,52.0 L568.6,58.6 L570.1,66.0 L571.6,74.2 L573.1,83.0 L574.6,92.5 L576.1,102.4 L577.6,112.5 L579.1,122.6 L580.6,132.6 L582.1,142.3 L583.6,151.3 L585.1,159.8 L586.6,167.4 L588.1,174.3 L589.6,180.4 L591.1,185.7 L592.6,190.3 L594.1,194.3 L595.6,197.6 L597.1,200.4 L598.6,202.8 L600.1,204.8 L601.6,206.4 L603.1,207.8 L604.6,208.9 L606.1,209.8 L607.6,210.6 L609.1,211.2 L610.6,211.7" fill="none" stroke="#5a2db0" stroke-width="1"/>
<path d="M370.9,14.6 L372.4,14.6 L373.9,14.6 L375.4,14.6 L376.9,14.6 L378.4,14.6 L379.9,14.6 L381.4,14.6 L382.9,14.6 L384.4,14.6 L385.9,14.6 L387.4,14.6 L388.9,14.6 L390.4,14.6 L391.9,14.6 L393.4,14.6 L394.9,14.6 L396.4,14.6 L397.9,14.6 L399.4,14.6 L400.9,14.6 L402.4,14.6 L403.9,14.6 L405.4,14.6 L406.9,14.6 L408.4,14.6 L409.8,14.6 L411.3,14.6 L412.8,14.6 L414.3,14.6 L415.8,14.6 L417.3,14.6 L418.8,14.6 L420.3,14.6 L421.8,14.6 L423.3,14.6 L424.8,14.6 L426.3,14.6 L427.8,14.6 L429.3,14.6 L430.8,14.6 L432.3,14.6 L433.8,14.6 L435.3,14.6 L436.8,14.6 L438.3,14.6 L439.8,14.6 L441.3,14.6 L442.8,14.6 L444.3,14.6 L445.8,14.6 L447.3,14.6 L448.8,14.6 L450.3,14.6 L451.8,14.6 L453.3,14.6 L454.8,14.6 L456.3,14.6 L457.8,14.6 L459.3,14.6 L460.8,14.6 L462.3,14.6 L463.8,14.6 L465.3,14.6 L466.8,14.6 L468.3,14.6 L469.8,14.6 L471.3,14.6 L472.8,14.6 L474.3,14.7 L475.8,14.7 L477.3,14.7 L478.8,14.7 L480.3,14.7 L481.8,14.8 L483.3,14.8 L484.8,14.8 L486.3,14.9 L487.7,15.0 L489.2,15.1 L490.7,15.2 L492.2,15.3 L493.7,15.5 L495.2,15.7 L496.7,15.9 L498.2,16.3 L499.7,16.7 L501.2,17.1 L502.7,17.7 L504.2,18.5 L505.7,19.4 L507.2,20.5 L508.7,21.9 L510.2,23.6 L511.7,25.6 L513.2,28.1 L514.7,31.1 L516.2,34.7 L517.7,38.9 L519.2,43.9 L520.7,49.7 L522.2,56.4 L523.7,64.0 L525.2,72.5 L526.7,81.7 L528.2,91.7 L529.7,102.1 L531.2,112.8 L532.7,123.6 L534.2,134.1 L535.7,144.2 L537.2,153.6 L538.7,162.3 L540.2,170.1 L541.7,177.1 L543.2,183.2 L544.7,188.4 L546.2,192.8 L547.7,196.6 L549.2,199.7 L550.7,202.3 L552.2,204.5 L553.7,206.3 L555.2,207.7 L556.7,208.9 L558.2,209.9 L559.7,210.7 L561.2,211.3 L562.7,211.8 L564.2,212.2 L565.6,212.6 L567.1,212.9 L568.6,213.1 L570.1,213.3 L571.6,213.4 L573.1,213.5 L574.6,213.6 L576.1,213.7 L577.6,213.7 L579.1,213.8 L580.6,213.8 L582.1,213.9 L583.6,213.9 L585.1,213.9 L586.6,213.9 L588.1,213.9 L589.6,214.0 L591.1,214.0 L592.6,214.0 L594.1,214.0 L595.6,214.0 L597.1,214.0 L598.6,214.0 L600.1,214.0 L601.6,214.0 L603.1,214.0 L604.6,214.0 L606.1,214.0 L607.6,214.0 L609.1,214.0 L610.6,214.0" fill="none" stroke="#0000ff" stroke-width="1.5" stroke-dasharray="4.4 2.2"/>
<line x1="371.20" y1="14.00" x2="371.20" y2="215.00" stroke="#000" stroke-width="1.4" />
<line x1="370.50" y1="214.50" x2="627.50" y2="214.50" stroke="#000" stroke-width="1.1" />
<line x1="367.60" y1="14.60" x2="371.20" y2="14.60" stroke="#000" stroke-width="1.0" />
<text x="366.40" y="16.90" font-size="6.5" text-anchor="end" font-weight="bold" fill="#000" stroke="#000" stroke-width="0.12" >100</text>
<line x1="367.60" y1="114.30" x2="371.20" y2="114.30" stroke="#000" stroke-width="1.0" />
<text x="366.40" y="116.60" font-size="6.5" text-anchor="end" font-weight="bold" fill="#000" stroke="#000" stroke-width="0.12" >50</text>
<line x1="367.60" y1="214.00" x2="371.20" y2="214.00" stroke="#000" stroke-width="1.0" />
<text x="366.40" y="216.30" font-size="6.5" text-anchor="end" font-weight="bold" fill="#000" stroke="#000" stroke-width="0.12" >0</text>
<line x1="377.32" y1="214.50" x2="377.32" y2="217.00" stroke="#000" stroke-width="1.0" />
<line x1="390.16" y1="214.50" x2="390.16" y2="217.00" stroke="#000" stroke-width="1.0" />
<line x1="403.00" y1="214.50" x2="403.00" y2="218.00" stroke="#000" stroke-width="1.0" />
<line x1="415.84" y1="214.50" x2="415.84" y2="217.00" stroke="#000" stroke-width="1.0" />
<line x1="428.68" y1="214.50" x2="428.68" y2="217.00" stroke="#000" stroke-width="1.0" />
<line x1="441.52" y1="214.50" x2="441.52" y2="217.00" stroke="#000" stroke-width="1.0" />
<line x1="454.36" y1="214.50" x2="454.36" y2="217.00" stroke="#000" stroke-width="1.0" />
<line x1="467.20" y1="214.50" x2="467.20" y2="218.00" stroke="#000" stroke-width="1.0" />
<line x1="480.04" y1="214.50" x2="480.04" y2="217.00" stroke="#000" stroke-width="1.0" />
<line x1="492.88" y1="214.50" x2="492.88" y2="217.00" stroke="#000" stroke-width="1.0" />
<line x1="505.72" y1="214.50" x2="505.72" y2="217.00" stroke="#000" stroke-width="1.0" />
<line x1="518.56" y1="214.50" x2="518.56" y2="217.00" stroke="#000" stroke-width="1.0" />
<line x1="531.40" y1="214.50" x2="531.40" y2="218.00" stroke="#000" stroke-width="1.0" />
<line x1="544.24" y1="214.50" x2="544.24" y2="217.00" stroke="#000" stroke-width="1.0" />
<line x1="557.08" y1="214.50" x2="557.08" y2="217.00" stroke="#000" stroke-width="1.0" />
<line x1="569.92" y1="214.50" x2="569.92" y2="217.00" stroke="#000" stroke-width="1.0" />
<line x1="582.76" y1="214.50" x2="582.76" y2="217.00" stroke="#000" stroke-width="1.0" />
<line x1="595.60" y1="214.50" x2="595.60" y2="218.00" stroke="#000" stroke-width="1.0" />
<line x1="608.44" y1="214.50" x2="608.44" y2="217.00" stroke="#000" stroke-width="1.0" />
<line x1="621.28" y1="214.50" x2="621.28" y2="217.00" stroke="#000" stroke-width="1.0" />
<text x="403.00" y="225.30" font-size="6.5" text-anchor="middle" font-weight="bold" fill="#000" stroke="#000" stroke-width="0.12" >-6</text>
<text x="467.20" y="225.30" font-size="6.5" text-anchor="middle" font-weight="bold" fill="#000" stroke="#000" stroke-width="0.12" >-4</text>
<text x="531.40" y="225.30" font-size="6.5" text-anchor="middle" font-weight="bold" fill="#000" stroke="#000" stroke-width="0.12" >-2</text>
<text x="595.60" y="225.30" font-size="6.5" text-anchor="middle" font-weight="bold" fill="#000" stroke="#000" stroke-width="0.12" >0</text>
<text x="476.50" y="228.40" font-size="6.6" text-anchor="start" font-weight="bold" fill="#000" stroke="#000" stroke-width="0.12" >Log</text>
<text x="488.40" y="229.90" font-size="4.6" text-anchor="start" font-weight="bold" fill="#000" stroke="#000" stroke-width="0.08" >10</text>
<text x="495.10" y="228.40" font-size="6.6" text-anchor="start" font-weight="bold" fill="#000" stroke="#000" stroke-width="0.12" >AmB uM</text>
<text transform="translate(355.7,136.7) rotate(-90)" font-size="6.5" font-weight="bold" stroke="#000" stroke-width="0.12" text-anchor="middle">% viability</text>
<text x="320.60" y="9.00" font-size="12.8" text-anchor="start" font-weight="bold" fill="#000" stroke="#000" stroke-width="0.12" textLength="10" lengthAdjust="spacingAndGlyphs">b.</text>
<line x1="636.30" y1="20.40" x2="658.10" y2="20.40" stroke="#0000ff" stroke-width="1.8" stroke-dasharray="5 1.6"/>
<text x="662.90" y="22.80" font-size="7" text-anchor="start" font-weight="normal" fill="#000" stroke="#000" stroke-width="0.28" >M2903</text>
<line x1="636.30" y1="37.20" x2="658.10" y2="37.20" stroke="#3333ff" stroke-width="0.9" />
<text x="662.90" y="39.60" font-size="7" text-anchor="start" font-weight="normal" fill="#000" stroke="#000" stroke-width="0.28" >A2</text>
<line x1="636.30" y1="54.00" x2="658.10" y2="54.00" stroke="#cc66ff" stroke-width="0.9" />
<text x="662.90" y="56.40" font-size="7" text-anchor="start" font-weight="normal" fill="#000" stroke="#000" stroke-width="0.28" >A8</text>
<line x1="636.30" y1="70.80" x2="658.10" y2="70.80" stroke="#00ffff" stroke-width="0.9" />
<text x="662.90" y="73.20" font-size="7" text-anchor="start" font-weight="normal" fill="#000" stroke="#000" stroke-width="0.28" >A9</text>
<line x1="636.30" y1="87.60" x2="658.10" y2="87.60" stroke="#2f5f9f" stroke-width="0.9" />
<text x="662.90" y="90.00" font-size="7" text-anchor="start" font-weight="normal" fill="#000" stroke="#000" stroke-width="0.28" >A10</text>
<line x1="636.30" y1="104.40" x2="658.10" y2="104.40" stroke="#ff0000" stroke-width="0.9" />
<text x="662.90" y="106.80" font-size="7" text-anchor="start" font-weight="normal" fill="#000" stroke="#000" stroke-width="0.28" >A11</text>
<line x1="636.30" y1="121.20" x2="658.10" y2="121.20" stroke="#008000" stroke-width="0.9" />
<text x="662.90" y="123.60" font-size="7" text-anchor="start" font-weight="normal" fill="#000" stroke="#000" stroke-width="0.28" >A18</text>
<line x1="636.30" y1="138.00" x2="658.10" y2="138.00" stroke="#ff00ff" stroke-width="0.9" />
<text x="662.90" y="140.40" font-size="7" text-anchor="start" font-weight="normal" fill="#000" stroke="#000" stroke-width="0.28" >A23</text>
<line x1="636.30" y1="154.80" x2="658.10" y2="154.80" stroke="#33ff33" stroke-width="0.9" />
<text x="662.90" y="157.20" font-size="7" text-anchor="start" font-weight="normal" fill="#000" stroke="#000" stroke-width="0.28" >A26</text>
<line x1="636.30" y1="171.60" x2="658.10" y2="171.60" stroke="#5a2db0" stroke-width="0.9" />
<text x="662.90" y="174.00" font-size="7" text-anchor="start" font-weight="normal" fill="#000" stroke="#000" stroke-width="0.28" >A28</text>
<line x1="636.30" y1="188.40" x2="658.10" y2="188.40" stroke="#8c8c00" stroke-width="0.9" />
<text x="662.90" y="190.80" font-size="7" text-anchor="start" font-weight="normal" fill="#000" stroke="#000" stroke-width="0.28" >A36</text>
<line x1="636.30" y1="205.20" x2="658.10" y2="205.20" stroke="#000000" stroke-width="0.9" />
<text x="662.90" y="207.60" font-size="7" text-anchor="start" font-weight="normal" fill="#000" stroke="#000" stroke-width="0.28" >A42</text>
<line x1="636.30" y1="222.00" x2="658.10" y2="222.00" stroke="#ff9933" stroke-width="0.9" />
<text x="662.90" y="224.40" font-size="7" text-anchor="start" font-weight="normal" fill="#000" stroke="#000" stroke-width="0.28" >A53</text>
<line x1="636.30" y1="238.80" x2="658.10" y2="238.80" stroke="#800000" stroke-width="0.9" />
<text x="662.90" y="241.20" font-size="7" text-anchor="start" font-weight="normal" fill="#000" stroke="#000" stroke-width="0.28" >A66</text>
<text x="28.00" y="253.70" font-size="12.5" text-anchor="start" font-weight="bold" fill="#000" stroke="#000" stroke-width="0.12" textLength="9.6" lengthAdjust="spacingAndGlyphs">c.</text>
<line x1="45.60" y1="275.00" x2="45.60" y2="476.50" stroke="#b4b4b4" stroke-width="1" />
<line x1="41.50" y1="476.50" x2="304.40" y2="476.50" stroke="#b4b4b4" stroke-width="1" />
<line x1="41.30" y1="476.50" x2="45.60" y2="476.50" stroke="#b4b4b4" stroke-width="0.8" />
<line x1="43.50" y1="470.73" x2="45.60" y2="470.73" stroke="#b4b4b4" stroke-width="0.8" />
<line x1="43.50" y1="464.96" x2="45.60" y2="464.96" stroke="#b4b4b4" stroke-width="0.8" />
<line x1="43.50" y1="459.19" x2="45.60" y2="459.19" stroke="#b4b4b4" stroke-width="0.8" />
<line x1="43.50" y1="453.42" x2="45.60" y2="453.42" stroke="#b4b4b4" stroke-width="0.8" />
<line x1="43.50" y1="447.65" x2="45.60" y2="447.65" stroke="#b4b4b4" stroke-width="0.8" />
<line x1="43.50" y1="441.88" x2="45.60" y2="441.88" stroke="#b4b4b4" stroke-width="0.8" />
<line x1="43.50" y1="436.11" x2="45.60" y2="436.11" stroke="#b4b4b4" stroke-width="0.8" />
<line x1="43.50" y1="430.34" x2="45.60" y2="430.34" stroke="#b4b4b4" stroke-width="0.8" />
<line x1="43.50" y1="424.57" x2="45.60" y2="424.57" stroke="#b4b4b4" stroke-width="0.8" />
<line x1="41.30" y1="418.80" x2="45.60" y2="418.80" stroke="#b4b4b4" stroke-width="0.8" />
<line x1="43.50" y1="413.03" x2="45.60" y2="413.03" stroke="#b4b4b4" stroke-width="0.8" />
<line x1="43.50" y1="407.26" x2="45.60" y2="407.26" stroke="#b4b4b4" stroke-width="0.8" />
<line x1="43.50" y1="401.49" x2="45.60" y2="401.49" stroke="#b4b4b4" stroke-width="0.8" />
<line x1="43.50" y1="395.72" x2="45.60" y2="395.72" stroke="#b4b4b4" stroke-width="0.8" />
<line x1="43.50" y1="389.95" x2="45.60" y2="389.95" stroke="#b4b4b4" stroke-width="0.8" />
<line x1="43.50" y1="384.18" x2="45.60" y2="384.18" stroke="#b4b4b4" stroke-width="0.8" />
<line x1="43.50" y1="378.41" x2="45.60" y2="378.41" stroke="#b4b4b4" stroke-width="0.8" />
<line x1="43.50" y1="372.64" x2="45.60" y2="372.64" stroke="#b4b4b4" stroke-width="0.8" />
<line x1="43.50" y1="366.87" x2="45.60" y2="366.87" stroke="#b4b4b4" stroke-width="0.8" />
<line x1="41.30" y1="361.10" x2="45.60" y2="361.10" stroke="#b4b4b4" stroke-width="0.8" />
<line x1="43.50" y1="355.33" x2="45.60" y2="355.33" stroke="#b4b4b4" stroke-width="0.8" />
<line x1="43.50" y1="349.56" x2="45.60" y2="349.56" stroke="#b4b4b4" stroke-width="0.8" />
<line x1="43.50" y1="343.79" x2="45.60" y2="343.79" stroke="#b4b4b4" stroke-width="0.8" />
<line x1="43.50" y1="338.02" x2="45.60" y2="338.02" stroke="#b4b4b4" stroke-width="0.8" />
<line x1="43.50" y1="332.25" x2="45.60" y2="332.25" stroke="#b4b4b4" stroke-width="0.8" />
<line x1="43.50" y1="326.48" x2="45.60" y2="326.48" stroke="#b4b4b4" stroke-width="0.8" />
<line x1="43.50" y1="320.71" x2="45.60" y2="320.71" stroke="#b4b4b4" stroke-width="0.8" />
<line x1="43.50" y1="314.94" x2="45.60" y2="314.94" stroke="#b4b4b4" stroke-width="0.8" />
<line x1="43.50" y1="309.17" x2="45.60" y2="309.17" stroke="#b4b4b4" stroke-width="0.8" />
<line x1="41.30" y1="303.40" x2="45.60" y2="303.40" stroke="#b4b4b4" stroke-width="0.8" />
<line x1="43.50" y1="297.63" x2="45.60" y2="297.63" stroke="#b4b4b4" stroke-width="0.8" />
<line x1="43.50" y1="291.86" x2="45.60" y2="291.86" stroke="#b4b4b4" stroke-width="0.8" />
<line x1="43.50" y1="286.09" x2="45.60" y2="286.09" stroke="#b4b4b4" stroke-width="0.8" />
<line x1="43.50" y1="280.32" x2="45.60" y2="280.32" stroke="#b4b4b4" stroke-width="0.8" />
<text x="40.20" y="478.80" font-size="6.5" text-anchor="end" font-weight="normal" fill="#333" stroke="#333" stroke-width="0.28" >0.0</text>
<text x="40.20" y="421.10" font-size="6.5" text-anchor="end" font-weight="normal" fill="#333" stroke="#333" stroke-width="0.28" >0.1</text>
<text x="40.20" y="363.40" font-size="6.5" text-anchor="end" font-weight="normal" fill="#333" stroke="#333" stroke-width="0.28" >0.2</text>
<text x="40.20" y="305.70" font-size="6.5" text-anchor="end" font-weight="normal" fill="#333" stroke="#333" stroke-width="0.28" >0.3</text>
<line x1="50.60" y1="476.50" x2="50.60" y2="481.00" stroke="#b4b4b4" stroke-width="0.8" />
<text transform="translate(52.6,486.2) rotate(-45)" font-size="6.5" font-weight="bold" stroke="#000" stroke-width="0.12" text-anchor="end">M2903</text>
<line x1="69.80" y1="476.50" x2="69.80" y2="481.00" stroke="#b4b4b4" stroke-width="0.8" />
<text x="69.80" y="489.00" font-size="6.5" text-anchor="middle" font-weight="bold" fill="#000" stroke="#000" stroke-width="0.12" >A2</text>
<line x1="89.00" y1="476.50" x2="89.00" y2="481.00" stroke="#b4b4b4" stroke-width="0.8" />
<text x="89.00" y="489.00" font-size="6.5" text-anchor="middle" font-weight="bold" fill="#000" stroke="#000" stroke-width="0.12" >A8</text>
<line x1="108.20" y1="476.50" x2="108.20" y2="481.00" stroke="#b4b4b4" stroke-width="0.8" />
<text x="108.20" y="489.00" font-size="6.5" text-anchor="middle" font-weight="bold" fill="#000" stroke="#000" stroke-width="0.12" >A9</text>
<line x1="127.40" y1="476.50" x2="127.40" y2="481.00" stroke="#b4b4b4" stroke-width="0.8" />
<text x="127.40" y="489.00" font-size="6.5" text-anchor="middle" font-weight="bold" fill="#000" stroke="#000" stroke-width="0.12" >A10</text>
<line x1="146.60" y1="476.50" x2="146.60" y2="481.00" stroke="#b4b4b4" stroke-width="0.8" />
<text x="146.60" y="489.00" font-size="6.5" text-anchor="middle" font-weight="bold" fill="#000" stroke="#000" stroke-width="0.12" >A11</text>
<line x1="165.80" y1="476.50" x2="165.80" y2="481.00" stroke="#b4b4b4" stroke-width="0.8" />
<text x="165.80" y="489.00" font-size="6.5" text-anchor="middle" font-weight="bold" fill="#000" stroke="#000" stroke-width="0.12" >A18</text>
<line x1="185.00" y1="476.50" x2="185.00" y2="481.00" stroke="#b4b4b4" stroke-width="0.8" />
<text x="185.00" y="489.00" font-size="6.5" text-anchor="middle" font-weight="bold" fill="#000" stroke="#000" stroke-width="0.12" >A23</text>
<line x1="204.20" y1="476.50" x2="204.20" y2="481.00" stroke="#b4b4b4" stroke-width="0.8" />
<text x="204.20" y="489.00" font-size="6.5" text-anchor="middle" font-weight="bold" fill="#000" stroke="#000" stroke-width="0.12" >A26</text>
<line x1="223.40" y1="476.50" x2="223.40" y2="481.00" stroke="#b4b4b4" stroke-width="0.8" />
<text x="223.40" y="489.00" font-size="6.5" text-anchor="middle" font-weight="bold" fill="#000" stroke="#000" stroke-width="0.12" >A28</text>
<line x1="242.60" y1="476.50" x2="242.60" y2="481.00" stroke="#b4b4b4" stroke-width="0.8" />
<text x="242.60" y="489.00" font-size="6.5" text-anchor="middle" font-weight="bold" fill="#000" stroke="#000" stroke-width="0.12" >A36</text>
<line x1="261.80" y1="476.50" x2="261.80" y2="481.00" stroke="#b4b4b4" stroke-width="0.8" />
<text x="261.80" y="489.00" font-size="6.5" text-anchor="middle" font-weight="bold" fill="#000" stroke="#000" stroke-width="0.12" >A42</text>
<line x1="281.00" y1="476.50" x2="281.00" y2="481.00" stroke="#b4b4b4" stroke-width="0.8" />
<text x="281.00" y="489.00" font-size="6.5" text-anchor="middle" font-weight="bold" fill="#000" stroke="#000" stroke-width="0.12" >A53</text>
<line x1="300.20" y1="476.50" x2="300.20" y2="481.00" stroke="#b4b4b4" stroke-width="0.8" />
<text x="300.20" y="489.00" font-size="6.5" text-anchor="middle" font-weight="bold" fill="#000" stroke="#000" stroke-width="0.12" >A66</text>
<text transform="translate(21.9,386.3) rotate(-90)" font-size="8.6" text-anchor="middle" fill="#222" stroke="#222" stroke-width="0.28" textLength="50" lengthAdjust="spacingAndGlyphs">AmB Ec50 uM</text>
<text x="175.40" y="500.00" font-size="7.5" text-anchor="middle" font-weight="normal" fill="#333" stroke="#333" stroke-width="0.28" >Isolate ID</text>
<line x1="69.80" y1="408.00" x2="69.80" y2="413.80" stroke="#a8a8ff" stroke-width="0.8" />
<line x1="68.60" y1="408.00" x2="71.00" y2="408.00" stroke="#a8a8ff" stroke-width="0.8" />
<line x1="69.80" y1="413.80" x2="69.80" y2="421.00" stroke="#a8a8ff" stroke-width="0.8" />
<line x1="68.60" y1="421.00" x2="71.00" y2="421.00" stroke="#a8a8ff" stroke-width="0.8" />
<line x1="89.00" y1="440.00" x2="89.00" y2="443.40" stroke="#a8a8ff" stroke-width="0.8" />
<line x1="87.80" y1="440.00" x2="90.20" y2="440.00" stroke="#a8a8ff" stroke-width="0.8" />
<line x1="89.00" y1="443.40" x2="89.00" y2="446.00" stroke="#a8a8ff" stroke-width="0.8" />
<line x1="87.80" y1="446.00" x2="90.20" y2="446.00" stroke="#a8a8ff" stroke-width="0.8" />
<line x1="108.20" y1="442.40" x2="108.20" y2="446.20" stroke="#a8a8ff" stroke-width="0.8" />
<line x1="107.00" y1="442.40" x2="109.40" y2="442.40" stroke="#a8a8ff" stroke-width="0.8" />
<line x1="108.20" y1="446.20" x2="108.20" y2="449.60" stroke="#a8a8ff" stroke-width="0.8" />
<line x1="107.00" y1="449.60" x2="109.40" y2="449.60" stroke="#a8a8ff" stroke-width="0.8" />
<line x1="127.40" y1="363.40" x2="127.40" y2="367.00" stroke="#a8a8ff" stroke-width="0.8" />
<line x1="126.20" y1="363.40" x2="128.60" y2="363.40" stroke="#a8a8ff" stroke-width="0.8" />
<line x1="127.40" y1="367.00" x2="127.40" y2="369.00" stroke="#a8a8ff" stroke-width="0.8" />
<line x1="126.20" y1="369.00" x2="128.60" y2="369.00" stroke="#a8a8ff" stroke-width="0.8" />
<line x1="146.60" y1="377.20" x2="146.60" y2="398.20" stroke="#a8a8ff" stroke-width="0.8" />
<line x1="145.40" y1="377.20" x2="147.80" y2="377.20" stroke="#a8a8ff" stroke-width="0.8" />
<line x1="146.60" y1="398.20" x2="146.60" y2="414.40" stroke="#a8a8ff" stroke-width="0.8" />
<line x1="145.40" y1="414.40" x2="147.80" y2="414.40" stroke="#a8a8ff" stroke-width="0.8" />
<line x1="185.00" y1="462.00" x2="185.00" y2="466.00" stroke="#a8a8ff" stroke-width="0.8" />
<line x1="183.80" y1="462.00" x2="186.20" y2="462.00" stroke="#a8a8ff" stroke-width="0.8" />
<line x1="185.00" y1="466.00" x2="185.00" y2="470.00" stroke="#a8a8ff" stroke-width="0.8" />
<line x1="183.80" y1="470.00" x2="186.20" y2="470.00" stroke="#a8a8ff" stroke-width="0.8" />
<line x1="204.20" y1="445.40" x2="204.20" y2="451.40" stroke="#a8a8ff" stroke-width="0.8" />
<line x1="203.00" y1="445.40" x2="205.40" y2="445.40" stroke="#a8a8ff" stroke-width="0.8" />
<line x1="204.20" y1="451.40" x2="204.20" y2="454.40" stroke="#a8a8ff" stroke-width="0.8" />
<line x1="203.00" y1="454.40" x2="205.40" y2="454.40" stroke="#a8a8ff" stroke-width="0.8" />
<line x1="223.40" y1="421.00" x2="223.40" y2="424.20" stroke="#a8a8ff" stroke-width="0.8" />
<line x1="222.20" y1="421.00" x2="224.60" y2="421.00" stroke="#a8a8ff" stroke-width="0.8" />
<line x1="223.40" y1="424.20" x2="223.40" y2="427.40" stroke="#a8a8ff" stroke-width="0.8" />
<line x1="222.20" y1="427.40" x2="224.60" y2="427.40" stroke="#a8a8ff" stroke-width="0.8" />
<line x1="242.60" y1="382.80" x2="242.60" y2="396.20" stroke="#a8a8ff" stroke-width="0.8" />
<line x1="241.40" y1="396.20" x2="243.80" y2="396.20" stroke="#a8a8ff" stroke-width="0.8" />
<line x1="261.80" y1="414.50" x2="261.80" y2="425.40" stroke="#a8a8ff" stroke-width="0.8" />
<line x1="260.60" y1="414.50" x2="263.00" y2="414.50" stroke="#a8a8ff" stroke-width="0.8" />
<line x1="261.80" y1="425.40" x2="261.80" y2="441.40" stroke="#a8a8ff" stroke-width="0.8" />
<line x1="260.60" y1="441.40" x2="263.00" y2="441.40" stroke="#a8a8ff" stroke-width="0.8" />
<line x1="281.00" y1="397.40" x2="281.00" y2="411.40" stroke="#a8a8ff" stroke-width="0.8" />
<line x1="279.80" y1="397.40" x2="282.20" y2="397.40" stroke="#a8a8ff" stroke-width="0.8" />
<line x1="281.00" y1="411.40" x2="281.00" y2="424.50" stroke="#a8a8ff" stroke-width="0.8" />
<line x1="279.80" y1="424.50" x2="282.20" y2="424.50" stroke="#a8a8ff" stroke-width="0.8" />
<line x1="300.20" y1="332.40" x2="300.20" y2="347.00" stroke="#a8a8ff" stroke-width="0.8" />
<line x1="299.00" y1="332.40" x2="301.40" y2="332.40" stroke="#a8a8ff" stroke-width="0.8" />
<line x1="300.20" y1="347.00" x2="300.20" y2="363.40" stroke="#a8a8ff" stroke-width="0.8" />
<line x1="299.00" y1="363.40" x2="301.40" y2="363.40" stroke="#a8a8ff" stroke-width="0.8" />
<circle cx="50.60" cy="471.00" r="1.85" fill="#ff0000"/>
<circle cx="69.80" cy="469.80" r="1.85" fill="#ff0000"/>
<line x1="89.00" y1="461.60" x2="89.00" y2="463.70" stroke="#ff2020" stroke-width="0.9" />
<line x1="87.80" y1="461.60" x2="90.20" y2="461.60" stroke="#ff2020" stroke-width="0.8" />
<circle cx="89.00" cy="463.70" r="1.85" fill="#ff0000"/>
<circle cx="108.20" cy="461.80" r="1.85" fill="#ff0000"/>
<line x1="127.40" y1="455.40" x2="127.40" y2="457.80" stroke="#ff2020" stroke-width="0.9" />
<line x1="126.20" y1="455.40" x2="128.60" y2="455.40" stroke="#ff2020" stroke-width="0.8" />
<circle cx="127.40" cy="457.80" r="1.85" fill="#ff0000"/>
<line x1="146.60" y1="468.00" x2="146.60" y2="472.00" stroke="#ff2020" stroke-width="0.9" />
<line x1="145.40" y1="468.00" x2="147.80" y2="468.00" stroke="#ff2020" stroke-width="0.8" />
<circle cx="146.60" cy="472.00" r="1.85" fill="#ff0000"/>
<circle cx="165.80" cy="468.20" r="1.85" fill="#ff0000"/>
<line x1="185.00" y1="457.40" x2="185.00" y2="472.40" stroke="#ff2020" stroke-width="0.9" />
<line x1="183.80" y1="457.40" x2="186.20" y2="457.40" stroke="#ff2020" stroke-width="0.8" />
<circle cx="185.00" cy="472.40" r="1.85" fill="#ff0000"/>
<circle cx="204.20" cy="472.60" r="1.85" fill="#ff0000"/>
<line x1="223.40" y1="304.60" x2="223.40" y2="316.20" stroke="#ff2020" stroke-width="0.9" />
<line x1="222.20" y1="304.60" x2="224.60" y2="304.60" stroke="#ff2020" stroke-width="0.8" />
<circle cx="223.40" cy="316.20" r="1.85" fill="#ff0000"/>
<line x1="242.60" y1="352.40" x2="242.60" y2="379.40" stroke="#ff2020" stroke-width="0.9" />
<line x1="241.40" y1="352.40" x2="243.80" y2="352.40" stroke="#ff2020" stroke-width="0.8" />
<circle cx="242.60" cy="379.40" r="1.85" fill="#ff0000"/>
<circle cx="261.80" cy="466.40" r="1.85" fill="#ff0000"/>
<circle cx="281.00" cy="469.00" r="1.85" fill="#ff0000"/>
<line x1="300.20" y1="468.40" x2="300.20" y2="476.00" stroke="#ff2020" stroke-width="0.9" />
<line x1="299.00" y1="468.40" x2="301.40" y2="468.40" stroke="#ff2020" stroke-width="0.8" />
<circle cx="300.20" cy="476.00" r="1.85" fill="#ff0000"/>
<rect x="49.10" y="457.10" width="3" height="3" fill="#9a9aff" stroke="#0000ff" stroke-width="1.0"/>
<rect x="68.30" y="412.30" width="3" height="3" fill="#9a9aff" stroke="#0000ff" stroke-width="1.0"/>
<rect x="87.50" y="441.90" width="3" height="3" fill="#9a9aff" stroke="#0000ff" stroke-width="1.0"/>
<rect x="106.70" y="444.70" width="3" height="3" fill="#9a9aff" stroke="#0000ff" stroke-width="1.0"/>
<rect x="125.90" y="365.50" width="3" height="3" fill="#9a9aff" stroke="#0000ff" stroke-width="1.0"/>
<rect x="145.10" y="396.70" width="3" height="3" fill="#9a9aff" stroke="#0000ff" stroke-width="1.0"/>
<rect x="164.30" y="448.00" width="3" height="3" fill="#9a9aff" stroke="#0000ff" stroke-width="1.0"/>
<rect x="183.50" y="464.50" width="3" height="3" fill="#9a9aff" stroke="#0000ff" stroke-width="1.0"/>
<rect x="202.70" y="449.90" width="3" height="3" fill="#9a9aff" stroke="#0000ff" stroke-width="1.0"/>
<rect x="221.90" y="422.70" width="3" height="3" fill="#9a9aff" stroke="#0000ff" stroke-width="1.0"/>
<rect x="241.10" y="381.30" width="3" height="3" fill="#9a9aff" stroke="#0000ff" stroke-width="1.0"/>
<rect x="260.30" y="423.90" width="3" height="3" fill="#9a9aff" stroke="#0000ff" stroke-width="1.0"/>
<rect x="279.50" y="409.90" width="3" height="3" fill="#9a9aff" stroke="#0000ff" stroke-width="1.0"/>
<rect x="298.70" y="345.50" width="3" height="3" fill="#9a9aff" stroke="#0000ff" stroke-width="1.0"/>
<rect x="60.2" y="511.9" width="2.6" height="2.6" fill="#e0e0ff" stroke="#0000ff" stroke-width="0.9"/>
<text x="75.00" y="516.10" font-size="6.9" text-anchor="start" font-weight="normal" fill="#222" stroke="#222" stroke-width="0.28" >Promastigote AmB-EC50 (uM)</text>
<circle cx="204" cy="514" r="1.5" fill="#ff0000"/>
<text x="217.40" y="516.10" font-size="6.9" text-anchor="start" font-weight="normal" fill="#222" stroke="#222" stroke-width="0.28" >Amastigote AmB-EC50 (uM)</text>
<text x="320.40" y="253.70" font-size="13" text-anchor="start" font-weight="normal" fill="#111" stroke="#111" stroke-width="0.6" textLength="10" lengthAdjust="spacingAndGlyphs">d.</text>
<text x="383.60" y="300.80" font-size="10.2" text-anchor="start" font-weight="normal" fill="#111" stroke="#111" stroke-width="0.28" textLength="120.6" lengthAdjust="spacingAndGlyphs">K-mer clustering L.b isolates</text>
<rect x="382.8" y="306.2" width="223.10" height="199.40" fill="#e5e5e5"/>
<line x1="398.20" y1="306.20" x2="398.20" y2="505.60" stroke="#f4f4f4" stroke-width="0.8" />
<line x1="447.60" y1="306.20" x2="447.60" y2="505.60" stroke="#f4f4f4" stroke-width="0.8" />
<line x1="497.00" y1="306.20" x2="497.00" y2="505.60" stroke="#f4f4f4" stroke-width="0.8" />
<line x1="546.40" y1="306.20" x2="546.40" y2="505.60" stroke="#f4f4f4" stroke-width="0.8" />
<line x1="595.80" y1="306.20" x2="595.80" y2="505.60" stroke="#f4f4f4" stroke-width="0.8" />
<line x1="382.80" y1="469.70" x2="605.90" y2="469.70" stroke="#f4f4f4" stroke-width="0.8" />
<line x1="382.80" y1="416.30" x2="605.90" y2="416.30" stroke="#f4f4f4" stroke-width="0.8" />
<line x1="382.80" y1="362.90" x2="605.90" y2="362.90" stroke="#f4f4f4" stroke-width="0.8" />
<line x1="382.80" y1="309.50" x2="605.90" y2="309.50" stroke="#f4f4f4" stroke-width="0.8" />
<line x1="422.90" y1="306.20" x2="422.90" y2="505.60" stroke="#ffffff" stroke-width="1" />
<line x1="472.30" y1="306.20" x2="472.30" y2="505.60" stroke="#ffffff" stroke-width="1" />
<line x1="521.70" y1="306.20" x2="521.70" y2="505.60" stroke="#ffffff" stroke-width="1" />
<line x1="571.10" y1="306.20" x2="571.10" y2="505.60" stroke="#ffffff" stroke-width="1" />
<line x1="382.80" y1="496.40" x2="605.90" y2="496.40" stroke="#ffffff" stroke-width="1" />
<line x1="382.80" y1="443.00" x2="605.90" y2="443.00" stroke="#ffffff" stroke-width="1" />
<line x1="382.80" y1="389.60" x2="605.90" y2="389.60" stroke="#ffffff" stroke-width="1" />
<line x1="382.80" y1="336.20" x2="605.90" y2="336.20" stroke="#ffffff" stroke-width="1" />
<line x1="380.40" y1="496.40" x2="382.80" y2="496.40" stroke="#333" stroke-width="0.6" />
<text x="379.00" y="498.70" font-size="6.5" text-anchor="end" font-weight="normal" fill="#4d4d4d" stroke="#4d4d4d" stroke-width="0.28" >-1</text>
<line x1="380.40" y1="443.00" x2="382.80" y2="443.00" stroke="#333" stroke-width="0.6" />
<text x="379.00" y="445.30" font-size="6.5" text-anchor="end" font-weight="normal" fill="#4d4d4d" stroke="#4d4d4d" stroke-width="0.28" >0</text>
<line x1="380.40" y1="389.60" x2="382.80" y2="389.60" stroke="#333" stroke-width="0.6" />
<text x="379.00" y="391.90" font-size="6.5" text-anchor="end" font-weight="normal" fill="#4d4d4d" stroke="#4d4d4d" stroke-width="0.28" >1</text>
<line x1="380.40" y1="336.20" x2="382.80" y2="336.20" stroke="#333" stroke-width="0.6" />
<text x="379.00" y="338.50" font-size="6.5" text-anchor="end" font-weight="normal" fill="#4d4d4d" stroke="#4d4d4d" stroke-width="0.28" >2</text>
<line x1="422.90" y1="505.60" x2="422.90" y2="508.10" stroke="#333" stroke-width="0.6" />
<text x="422.90" y="515.80" font-size="6.5" text-anchor="middle" font-weight="normal" fill="#4d4d4d" stroke="#4d4d4d" stroke-width="0.28" >-1</text>
<line x1="472.30" y1="505.60" x2="472.30" y2="508.10" stroke="#333" stroke-width="0.6" />
<text x="472.30" y="515.80" font-size="6.5" text-anchor="middle" font-weight="normal" fill="#4d4d4d" stroke="#4d4d4d" stroke-width="0.28" >0</text>
<line x1="521.70" y1="505.60" x2="521.70" y2="508.10" stroke="#333" stroke-width="0.6" />
<text x="521.70" y="515.80" font-size="6.5" text-anchor="middle" font-weight="normal" fill="#4d4d4d" stroke="#4d4d4d" stroke-width="0.28" >1</text>
<line x1="571.10" y1="505.60" x2="571.10" y2="508.10" stroke="#333" stroke-width="0.6" />
<text x="571.10" y="515.80" font-size="6.5" text-anchor="middle" font-weight="normal" fill="#4d4d4d" stroke="#4d4d4d" stroke-width="0.28" >2</text>
<text x="470.70" y="524.30" font-size="7.9" text-anchor="start" font-weight="normal" fill="#111" stroke="#111" stroke-width="0.28" >Dim1 (43.6%)</text>
<text transform="translate(369.8,406) rotate(-90)" font-size="8.1" text-anchor="middle" fill="#111" stroke="#111" stroke-width="0.28">Dim2 (31.9%)</text>
<polygon points="451.7,477.9 477.4,462.9 510.3,442.5 526.8,447.3 498.7,468.1" fill="#c77cff" fill-opacity="0.27" stroke="#bc2849" stroke-width="0.85"/>
<line x1="498.60" y1="444.50" x2="596.20" y2="407.20" stroke="#4e9a2e" stroke-width="0.75" />
<line x1="395.00" y1="315.40" x2="452.40" y2="347.40" stroke="#2e9fdf" stroke-width="0.75" />
<line x1="393.90" y1="482.20" x2="393.50" y2="497.00" stroke="#e8682c" stroke-width="0.75" />
<circle cx="393.9" cy="482.2" r="1.3" fill="#e8682c"/>
<circle cx="393.5" cy="497" r="1.3" fill="#e8682c"/>
<path d="M393.6,316.5 L396.4,316.5 L395,314.09999999999997 Z" fill="#2e9fdf"/>
<path d="M451.0,348.5 L453.79999999999995,348.5 L452.4,346.09999999999997 Z" fill="#2e9fdf"/>
<rect x="497.40000000000003" y="443.3" width="2.4" height="2.4" fill="#4e9a2e"/>
<rect x="595.0" y="406.0" width="2.4" height="2.4" fill="#4e9a2e"/>
<path d="M449.59999999999997,477.9 L453.8,477.9 M451.7,475.79999999999995 L451.7,480.0" stroke="#bc2849" stroke-width="0.8"/>
<path d="M475.29999999999995,462.9 L479.5,462.9 M477.4,460.79999999999995 L477.4,465.0" stroke="#bc2849" stroke-width="0.8"/>
<path d="M486.5,457.6 L490.70000000000005,457.6 M488.6,455.5 L488.6,459.70000000000005" stroke="#bc2849" stroke-width="0.8"/>
<path d="M508.2,442.5 L512.4,442.5 M510.3,440.4 L510.3,444.6" stroke="#bc2849" stroke-width="0.8"/>
<path d="M524.6999999999999,447.3 L528.9,447.3 M526.8,445.2 L526.8,449.40000000000003" stroke="#bc2849" stroke-width="0.8"/>
<path d="M496.59999999999997,468.1 L500.8,468.1 M498.7,466.0 L498.7,470.20000000000005" stroke="#bc2849" stroke-width="0.8"/>
<path d="M478.5,468.9 L482.70000000000005,468.9 M480.6,466.79999999999995 L480.6,471.0" stroke="#bc2849" stroke-width="0.8"/>
<text x="385.00" y="325.90" font-size="8.0" text-anchor="start" font-weight="normal" fill="#2e9fdf" stroke="#2e9fdf" stroke-width="0.28" textLength="13.4" lengthAdjust="spacingAndGlyphs">A28</text>
<text x="452.40" y="344.50" font-size="8.0" text-anchor="start" font-weight="normal" fill="#2e9fdf" stroke="#2e9fdf" stroke-width="0.28" textLength="13.4" lengthAdjust="spacingAndGlyphs">A36</text>
<text x="393.80" y="479.20" font-size="8.0" text-anchor="start" font-weight="normal" fill="#e8682c" stroke="#e8682c" stroke-width="0.28" textLength="13.4" lengthAdjust="spacingAndGlyphs">A10</text>
<text x="393.80" y="493.90" font-size="8.0" text-anchor="start" font-weight="normal" fill="#e8682c" stroke="#e8682c" stroke-width="0.28" textLength="13.4" lengthAdjust="spacingAndGlyphs">A66</text>
<text x="581.10" y="417.70" font-size="8.0" text-anchor="start" font-weight="normal" fill="#4e9a2e" stroke="#4e9a2e" stroke-width="0.28" textLength="13.4" lengthAdjust="spacingAndGlyphs">A23</text>
<text x="491.00" y="454.90" font-size="8.0" text-anchor="start" font-weight="normal" fill="#4e9a2e" stroke="#4e9a2e" stroke-width="0.28" textLength="13.4" lengthAdjust="spacingAndGlyphs">A11</text>
<text x="512.20" y="439.00" font-size="8.0" text-anchor="start" font-weight="normal" fill="#bc2849" stroke="#bc2849" stroke-width="0.28" textLength="8.8" lengthAdjust="spacingAndGlyphs">A9</text>
<text x="527.20" y="457.80" font-size="8.0" text-anchor="start" font-weight="normal" fill="#bc2849" stroke="#bc2849" stroke-width="0.28" textLength="13.4" lengthAdjust="spacingAndGlyphs">A26</text>
<text x="499.40" y="479.00" font-size="8.0" text-anchor="start" font-weight="normal" fill="#bc2849" stroke="#bc2849" stroke-width="0.28" textLength="22.8" lengthAdjust="spacingAndGlyphs">M2903</text>
<text x="480.30" y="479.00" font-size="8.0" text-anchor="start" font-weight="normal" fill="#bc2849" stroke="#bc2849" stroke-width="0.28" textLength="13.4" lengthAdjust="spacingAndGlyphs">A18</text>
<text x="476.60" y="454.90" font-size="8.0" text-anchor="start" font-weight="normal" fill="#bc2849" stroke="#bc2849" stroke-width="0.28" textLength="8.8" lengthAdjust="spacingAndGlyphs">A8</text>
<text x="462.10" y="473.00" font-size="8.0" text-anchor="start" font-weight="normal" fill="#bc2849" stroke="#bc2849" stroke-width="0.28" textLength="13.4" lengthAdjust="spacingAndGlyphs">A42</text>
<text x="436.10" y="475.00" font-size="8.0" text-anchor="start" font-weight="normal" fill="#bc2849" stroke="#bc2849" stroke-width="0.28" textLength="13.4" lengthAdjust="spacingAndGlyphs">A53</text>
<text x="454.90" y="489.10" font-size="8.0" text-anchor="start" font-weight="normal" fill="#bc2849" stroke="#bc2849" stroke-width="0.28" textLength="8.8" lengthAdjust="spacingAndGlyphs">A2</text>
<text x="617.70" y="382.80" font-size="8.3" text-anchor="start" font-weight="normal" fill="#111" stroke="#111" stroke-width="0.28" >cluster</text>
<rect x="618.2" y="388.4" width="11.8" height="11.8" fill="#f2f2f2"/>
<rect x="618.7" y="388.9" width="10.8" height="10.8" fill="#f8766d" fill-opacity="0.3" stroke="#e8682c" stroke-width="0.7"/>
<text x="624.10" y="397.20" font-size="7.8" text-anchor="middle" font-weight="normal" fill="#e8682c" stroke="#e8682c" stroke-width="0.45" >a</text>
<text x="634.20" y="397.00" font-size="6.8" text-anchor="start" font-weight="normal" fill="#111" stroke="#111" stroke-width="0.28" >1</text>
<rect x="618.2" y="400.5" width="11.8" height="11.8" fill="#f2f2f2"/>
<rect x="618.7" y="401.0" width="10.8" height="10.8" fill="#7cae00" fill-opacity="0.3" stroke="#2e9fdf" stroke-width="0.7"/>
<text x="624.10" y="409.30" font-size="7.8" text-anchor="middle" font-weight="normal" fill="#2e9fdf" stroke="#2e9fdf" stroke-width="0.45" >a</text>
<text x="634.20" y="409.10" font-size="6.8" text-anchor="start" font-weight="normal" fill="#111" stroke="#111" stroke-width="0.28" >2</text>
<rect x="618.2" y="412.59999999999997" width="11.8" height="11.8" fill="#f2f2f2"/>
<rect x="618.7" y="413.09999999999997" width="10.8" height="10.8" fill="#00bfc4" fill-opacity="0.3" stroke="#4e9a2e" stroke-width="0.7"/>
<text x="624.10" y="421.40" font-size="7.8" text-anchor="middle" font-weight="normal" fill="#4e9a2e" stroke="#4e9a2e" stroke-width="0.45" >a</text>
<text x="634.20" y="421.20" font-size="6.8" text-anchor="start" font-weight="normal" fill="#111" stroke="#111" stroke-width="0.28" >3</text>
<rect x="618.2" y="424.7" width="11.8" height="11.8" fill="#f2f2f2"/>
<rect x="618.7" y="425.2" width="10.8" height="10.8" fill="#c77cff" fill-opacity="0.3" stroke="#bc2849" stroke-width="0.7"/>
<text x="624.10" y="433.50" font-size="7.8" text-anchor="middle" font-weight="normal" fill="#bc2849" stroke="#bc2849" stroke-width="0.45" >a</text>
<text x="634.20" y="433.30" font-size="6.8" text-anchor="start" font-weight="normal" fill="#111" stroke="#111" stroke-width="0.28" >4</text>
</svg></body></html>
